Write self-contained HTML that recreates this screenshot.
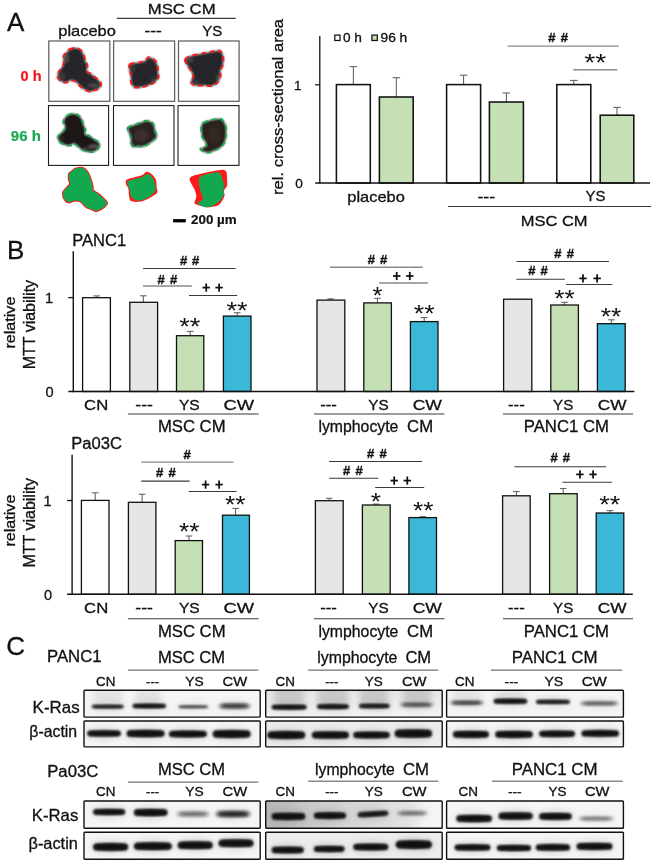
<!DOCTYPE html>
<html><head><meta charset="utf-8"><title>Figure</title>
<style>html,body{margin:0;padding:0;background:#fff}svg{display:block;will-change:transform}text{font-family:"Liberation Sans",sans-serif}</style>
</head><body>
<svg width="652" height="862" viewBox="0 0 652 862">
<defs>
<filter id="b05" x="-20%" y="-20%" width="140%" height="140%"><feGaussianBlur stdDeviation="0.8"/></filter>
<filter id="b03" x="-20%" y="-20%" width="140%" height="140%"><feGaussianBlur stdDeviation="0.3"/></filter>
<filter id="b1" x="-30%" y="-80%" width="160%" height="260%"><feGaussianBlur stdDeviation="1.2 0.95"/></filter>
<filter id="b15" x="-30%" y="-80%" width="160%" height="260%"><feGaussianBlur stdDeviation="1.9 1.35"/></filter>
<filter id="b3" x="-30%" y="-150%" width="160%" height="400%"><feGaussianBlur stdDeviation="3"/></filter>
<linearGradient id="gv" x1="0" y1="0" x2="0" y2="1"><stop offset="0" stop-color="#e4e4e4"/><stop offset="1" stop-color="#f4f4f4"/></linearGradient>
<linearGradient id="gm" x1="0" y1="0" x2="1" y2="0"><stop offset="0" stop-color="#b6b6b6"/><stop offset="0.35" stop-color="#cfcfcf"/><stop offset="0.8" stop-color="#e2e2e2"/><stop offset="0.9" stop-color="#f2f2f2"/><stop offset="1" stop-color="#f6f6f6"/></linearGradient>
</defs>
<rect x="0" y="0" width="652" height="862" fill="#fff"/>
<text x="7.00" y="31.20" font-size="26" text-anchor="start" fill="#111" stroke="#111" stroke-width="0.3" >A</text>
<text x="7.00" y="258.70" font-size="26" text-anchor="start" fill="#111" stroke="#111" stroke-width="0.3" >B</text>
<text x="6.30" y="654.70" font-size="26" text-anchor="start" fill="#111" stroke="#111" stroke-width="0.3" >C</text>
<text x="58.30" y="36.30" font-size="15" text-anchor="start" fill="#111" textLength="57.60" lengthAdjust="spacingAndGlyphs" stroke="#111" stroke-width="0.3" >placebo</text>
<text x="147.80" y="13.50" font-size="15.4" text-anchor="start" fill="#111" textLength="67.80" lengthAdjust="spacingAndGlyphs" stroke="#111" stroke-width="0.3" >MSC CM</text>
<line x1="116.70" y1="18.40" x2="235.70" y2="18.40" stroke="#3a3a3a" stroke-width="1.1" />
<text x="144.40" y="36.30" font-size="15" text-anchor="start" fill="#111" textLength="17.40" lengthAdjust="spacingAndGlyphs" stroke="#111" stroke-width="0.3" >---</text>
<text x="202.30" y="36.10" font-size="15" text-anchor="start" fill="#111" textLength="20.00" lengthAdjust="spacingAndGlyphs" stroke="#111" stroke-width="0.3" >YS</text>
<text x="20.60" y="81.00" font-size="14.5" text-anchor="start" fill="#f4141c" font-weight="bold" stroke="#f4141c" stroke-width="0.2" >0 h</text>
<text x="10.80" y="140.60" font-size="15" text-anchor="start" fill="#18a852" font-weight="bold" stroke="#18a852" stroke-width="0.2" >96 h</text>
<rect x="48.80" y="41.00" width="61.00" height="60.30" fill="none" stroke="#606060" stroke-width="1.25" />
<rect x="113.60" y="41.00" width="61.00" height="60.30" fill="none" stroke="#606060" stroke-width="1.25" />
<rect x="178.50" y="41.00" width="60.60" height="60.30" fill="none" stroke="#606060" stroke-width="1.25" />
<rect x="48.50" y="105.60" width="60.10" height="59.80" fill="none" stroke="#1c1c1c" stroke-width="1.1" />
<rect x="113.50" y="105.60" width="60.50" height="59.80" fill="none" stroke="#1c1c1c" stroke-width="1.1" />
<rect x="178.00" y="105.60" width="61.00" height="59.80" fill="none" stroke="#1c1c1c" stroke-width="1.1" />
<path d="M69.79,49.13C71.22,48.63 74.51,47.95 76.36,48.12C78.22,48.29 79.65,48.96 80.92,50.15C82.18,51.33 83.20,53.35 83.96,55.21C84.71,57.06 84.88,59.59 85.47,61.28C86.06,62.97 87.24,63.64 87.50,65.33C87.75,67.01 86.49,70.05 86.99,71.40C87.50,72.75 88.93,72.24 90.53,73.43C92.14,74.61 94.84,76.80 96.61,78.49C98.38,80.17 100.74,81.86 101.16,83.55C101.58,85.23 100.40,87.43 99.14,88.61C97.87,89.79 95.17,90.13 93.57,90.63C91.97,91.14 91.21,91.90 89.52,91.64C87.84,91.39 85.14,90.13 83.45,89.11C81.76,88.10 80.75,86.84 79.40,85.57C78.05,84.31 76.87,82.37 75.35,81.52C73.83,80.68 71.81,80.34 70.29,80.51C68.77,80.68 67.76,82.37 66.24,82.53C64.72,82.70 62.62,82.37 61.18,81.52C59.75,80.68 58.15,78.91 57.64,77.47C57.13,76.04 57.56,74.44 58.15,72.92C58.74,71.40 60.25,69.97 61.18,68.36C62.11,66.76 63.38,64.99 63.71,63.30C64.05,61.62 63.12,59.68 63.21,58.24C63.29,56.81 63.46,55.88 64.22,54.70C64.98,53.52 66.83,52.09 67.76,51.16C68.69,50.23 68.35,49.64 69.79,49.13Z" fill="#28262b" filter="url(#b05)"/>
<clipPath id="pb1"><path d="M69.79,49.13C71.22,48.63 74.51,47.95 76.36,48.12C78.22,48.29 79.65,48.96 80.92,50.15C82.18,51.33 83.20,53.35 83.96,55.21C84.71,57.06 84.88,59.59 85.47,61.28C86.06,62.97 87.24,63.64 87.50,65.33C87.75,67.01 86.49,70.05 86.99,71.40C87.50,72.75 88.93,72.24 90.53,73.43C92.14,74.61 94.84,76.80 96.61,78.49C98.38,80.17 100.74,81.86 101.16,83.55C101.58,85.23 100.40,87.43 99.14,88.61C97.87,89.79 95.17,90.13 93.57,90.63C91.97,91.14 91.21,91.90 89.52,91.64C87.84,91.39 85.14,90.13 83.45,89.11C81.76,88.10 80.75,86.84 79.40,85.57C78.05,84.31 76.87,82.37 75.35,81.52C73.83,80.68 71.81,80.34 70.29,80.51C68.77,80.68 67.76,82.37 66.24,82.53C64.72,82.70 62.62,82.37 61.18,81.52C59.75,80.68 58.15,78.91 57.64,77.47C57.13,76.04 57.56,74.44 58.15,72.92C58.74,71.40 60.25,69.97 61.18,68.36C62.11,66.76 63.38,64.99 63.71,63.30C64.05,61.62 63.12,59.68 63.21,58.24C63.29,56.81 63.46,55.88 64.22,54.70C64.98,53.52 66.83,52.09 67.76,51.16C68.69,50.23 68.35,49.64 69.79,49.13Z"/></clipPath><g clip-path="url(#pb1)">
<ellipse cx="66.24" cy="58.24" rx="3.04" ry="4.55" fill="#777" opacity="0.45" filter="url(#b1)"/>
<ellipse cx="93.57" cy="85.57" rx="6.07" ry="2.53" fill="#777" opacity="0.4" filter="url(#b1)"/>
<ellipse cx="62.19" cy="76.46" rx="3.04" ry="4.05" fill="#666" opacity="0.3" filter="url(#b1)"/>
</g>
<path d="M69.79,49.13C71.22,48.63 74.51,47.95 76.36,48.12C78.22,48.29 79.65,48.96 80.92,50.15C82.18,51.33 83.20,53.35 83.96,55.21C84.71,57.06 84.88,59.59 85.47,61.28C86.06,62.97 87.24,63.64 87.50,65.33C87.75,67.01 86.49,70.05 86.99,71.40C87.50,72.75 88.93,72.24 90.53,73.43C92.14,74.61 94.84,76.80 96.61,78.49C98.38,80.17 100.74,81.86 101.16,83.55C101.58,85.23 100.40,87.43 99.14,88.61C97.87,89.79 95.17,90.13 93.57,90.63C91.97,91.14 91.21,91.90 89.52,91.64C87.84,91.39 85.14,90.13 83.45,89.11C81.76,88.10 80.75,86.84 79.40,85.57C78.05,84.31 76.87,82.37 75.35,81.52C73.83,80.68 71.81,80.34 70.29,80.51C68.77,80.68 67.76,82.37 66.24,82.53C64.72,82.70 62.62,82.37 61.18,81.52C59.75,80.68 58.15,78.91 57.64,77.47C57.13,76.04 57.56,74.44 58.15,72.92C58.74,71.40 60.25,69.97 61.18,68.36C62.11,66.76 63.38,64.99 63.71,63.30C64.05,61.62 63.12,59.68 63.21,58.24C63.29,56.81 63.46,55.88 64.22,54.70C64.98,53.52 66.83,52.09 67.76,51.16C68.69,50.23 68.35,49.64 69.79,49.13Z" fill="none" stroke="#ff1515" stroke-width="1.8" stroke-dasharray="5 3.6" stroke-linecap="butt" filter="url(#b03)"/>
<path d="M129.72,64.32C130.91,63.22 133.86,63.30 136.30,62.80C138.75,62.29 142.38,62.21 144.40,61.28C146.43,60.35 146.76,57.48 148.45,57.23C150.14,56.98 153.00,58.41 154.52,59.76C156.04,61.11 156.97,63.22 157.56,65.33C158.15,67.44 157.90,70.39 158.06,72.41C158.23,74.44 158.99,75.96 158.57,77.47C158.15,78.99 157.05,80.26 155.53,81.52C154.02,82.79 151.65,84.14 149.46,85.06C147.27,85.99 144.74,86.67 142.38,87.09C140.01,87.51 136.98,87.85 135.29,87.60C133.60,87.34 133.01,86.75 132.26,85.57C131.50,84.39 130.99,82.37 130.74,80.51C130.48,78.65 130.99,76.29 130.74,74.44C130.48,72.58 129.39,71.06 129.22,69.38C129.05,67.69 128.54,65.41 129.72,64.32Z" fill="#26252a" filter="url(#b05)"/>
<clipPath id="pb2"><path d="M129.72,64.32C130.91,63.22 133.86,63.30 136.30,62.80C138.75,62.29 142.38,62.21 144.40,61.28C146.43,60.35 146.76,57.48 148.45,57.23C150.14,56.98 153.00,58.41 154.52,59.76C156.04,61.11 156.97,63.22 157.56,65.33C158.15,67.44 157.90,70.39 158.06,72.41C158.23,74.44 158.99,75.96 158.57,77.47C158.15,78.99 157.05,80.26 155.53,81.52C154.02,82.79 151.65,84.14 149.46,85.06C147.27,85.99 144.74,86.67 142.38,87.09C140.01,87.51 136.98,87.85 135.29,87.60C133.60,87.34 133.01,86.75 132.26,85.57C131.50,84.39 130.99,82.37 130.74,80.51C130.48,78.65 130.99,76.29 130.74,74.44C130.48,72.58 129.39,71.06 129.22,69.38C129.05,67.69 128.54,65.41 129.72,64.32Z"/></clipPath><g clip-path="url(#pb2)">
<ellipse cx="132.76" cy="68.36" rx="2.53" ry="4.55" fill="#666" opacity="0.3" filter="url(#b1)"/>
<ellipse cx="153.51" cy="80.51" rx="3.04" ry="3.04" fill="#666" opacity="0.3" filter="url(#b1)"/>
</g>
<path d="M129.72,64.32C130.91,63.22 133.86,63.30 136.30,62.80C138.75,62.29 142.38,62.21 144.40,61.28C146.43,60.35 146.76,57.48 148.45,57.23C150.14,56.98 153.00,58.41 154.52,59.76C156.04,61.11 156.97,63.22 157.56,65.33C158.15,67.44 157.90,70.39 158.06,72.41C158.23,74.44 158.99,75.96 158.57,77.47C158.15,78.99 157.05,80.26 155.53,81.52C154.02,82.79 151.65,84.14 149.46,85.06C147.27,85.99 144.74,86.67 142.38,87.09C140.01,87.51 136.98,87.85 135.29,87.60C133.60,87.34 133.01,86.75 132.26,85.57C131.50,84.39 130.99,82.37 130.74,80.51C130.48,78.65 130.99,76.29 130.74,74.44C130.48,72.58 129.39,71.06 129.22,69.38C129.05,67.69 128.54,65.41 129.72,64.32Z" fill="none" stroke="#ff1515" stroke-width="1.8" stroke-dasharray="5 3.6" stroke-linecap="butt" filter="url(#b03)"/>
<path d="M185.11,59.26C185.78,57.65 188.48,56.64 191.18,55.71C193.88,54.78 197.93,54.36 201.30,53.69C204.68,53.01 208.39,52.17 211.43,51.66C214.46,51.16 217.58,50.06 219.52,50.65C221.46,51.24 222.47,52.93 223.06,55.21C223.66,57.48 223.49,61.79 223.06,64.32C222.64,66.85 220.96,68.36 220.53,70.39C220.11,72.41 221.04,74.44 220.53,76.46C220.03,78.49 219.02,80.93 217.50,82.53C215.98,84.14 213.79,85.57 211.43,86.08C209.06,86.58 206.03,85.66 203.33,85.57C200.63,85.49 197.34,86.16 195.23,85.57C193.12,84.98 191.01,83.55 190.68,82.03C190.34,80.51 193.21,78.40 193.21,76.46C193.21,74.52 191.69,72.24 190.68,70.39C189.66,68.53 188.06,67.18 187.13,65.33C186.21,63.47 184.43,60.86 185.11,59.26Z" fill="#27262a" filter="url(#b05)"/>
<clipPath id="pb3"><path d="M185.11,59.26C185.78,57.65 188.48,56.64 191.18,55.71C193.88,54.78 197.93,54.36 201.30,53.69C204.68,53.01 208.39,52.17 211.43,51.66C214.46,51.16 217.58,50.06 219.52,50.65C221.46,51.24 222.47,52.93 223.06,55.21C223.66,57.48 223.49,61.79 223.06,64.32C222.64,66.85 220.96,68.36 220.53,70.39C220.11,72.41 221.04,74.44 220.53,76.46C220.03,78.49 219.02,80.93 217.50,82.53C215.98,84.14 213.79,85.57 211.43,86.08C209.06,86.58 206.03,85.66 203.33,85.57C200.63,85.49 197.34,86.16 195.23,85.57C193.12,84.98 191.01,83.55 190.68,82.03C190.34,80.51 193.21,78.40 193.21,76.46C193.21,74.52 191.69,72.24 190.68,70.39C189.66,68.53 188.06,67.18 187.13,65.33C186.21,63.47 184.43,60.86 185.11,59.26Z"/></clipPath><g clip-path="url(#pb3)">
<ellipse cx="189.16" cy="59.76" rx="4.05" ry="2.53" fill="#777" opacity="0.4" filter="url(#b1)"/>
<ellipse cx="218.51" cy="78.49" rx="2.53" ry="4.55" fill="#777" opacity="0.4" filter="url(#b1)"/>
<ellipse cx="196.24" cy="82.53" rx="4.05" ry="2.53" fill="#666" opacity="0.3" filter="url(#b1)"/>
</g>
<path d="M185.11,59.26C185.78,57.65 188.48,56.64 191.18,55.71C193.88,54.78 197.93,54.36 201.30,53.69C204.68,53.01 208.39,52.17 211.43,51.66C214.46,51.16 217.58,50.06 219.52,50.65C221.46,51.24 222.47,52.93 223.06,55.21C223.66,57.48 223.49,61.79 223.06,64.32C222.64,66.85 220.96,68.36 220.53,70.39C220.11,72.41 221.04,74.44 220.53,76.46C220.03,78.49 219.02,80.93 217.50,82.53C215.98,84.14 213.79,85.57 211.43,86.08C209.06,86.58 206.03,85.66 203.33,85.57C200.63,85.49 197.34,86.16 195.23,85.57C193.12,84.98 191.01,83.55 190.68,82.03C190.34,80.51 193.21,78.40 193.21,76.46C193.21,74.52 191.69,72.24 190.68,70.39C189.66,68.53 188.06,67.18 187.13,65.33C186.21,63.47 184.43,60.86 185.11,59.26Z" fill="none" stroke="#ff1515" stroke-width="1.8" stroke-dasharray="5 3.6" stroke-linecap="butt" filter="url(#b03)"/>
<path d="M67.76,115.16C69.03,114.40 70.54,113.64 72.32,113.64C74.09,113.64 76.79,114.15 78.39,115.16C79.99,116.17 81.09,118.11 81.93,119.71C82.77,121.32 82.86,123.17 83.45,124.77C84.04,126.38 85.22,127.73 85.47,129.33C85.73,130.93 84.46,133.38 84.97,134.39C85.47,135.40 86.91,134.56 88.51,135.40C90.11,136.24 92.73,138.10 94.58,139.45C96.44,140.80 99.14,141.81 99.64,143.50C100.15,145.18 98.97,148.14 97.62,149.57C96.27,151.00 93.40,151.76 91.55,152.10C89.69,152.44 88.17,152.02 86.49,151.60C84.80,151.17 82.94,150.50 81.43,149.57C79.91,148.64 78.73,147.04 77.38,146.03C76.03,145.02 74.51,143.58 73.33,143.50C72.15,143.41 71.64,145.27 70.29,145.52C68.94,145.78 66.92,145.52 65.23,145.02C63.54,144.51 61.44,143.75 60.17,142.49C58.90,141.22 57.64,138.86 57.64,137.43C57.64,135.99 59.16,134.98 60.17,133.88C61.18,132.79 62.87,132.11 63.71,130.85C64.56,129.58 65.32,127.73 65.23,126.29C65.15,124.86 63.29,123.59 63.21,122.24C63.12,120.89 63.97,119.38 64.72,118.19C65.48,117.01 66.50,115.92 67.76,115.16Z" fill="#1c1716" filter="url(#b05)"/>
<clipPath id="pb4"><path d="M67.76,115.16C69.03,114.40 70.54,113.64 72.32,113.64C74.09,113.64 76.79,114.15 78.39,115.16C79.99,116.17 81.09,118.11 81.93,119.71C82.77,121.32 82.86,123.17 83.45,124.77C84.04,126.38 85.22,127.73 85.47,129.33C85.73,130.93 84.46,133.38 84.97,134.39C85.47,135.40 86.91,134.56 88.51,135.40C90.11,136.24 92.73,138.10 94.58,139.45C96.44,140.80 99.14,141.81 99.64,143.50C100.15,145.18 98.97,148.14 97.62,149.57C96.27,151.00 93.40,151.76 91.55,152.10C89.69,152.44 88.17,152.02 86.49,151.60C84.80,151.17 82.94,150.50 81.43,149.57C79.91,148.64 78.73,147.04 77.38,146.03C76.03,145.02 74.51,143.58 73.33,143.50C72.15,143.41 71.64,145.27 70.29,145.52C68.94,145.78 66.92,145.52 65.23,145.02C63.54,144.51 61.44,143.75 60.17,142.49C58.90,141.22 57.64,138.86 57.64,137.43C57.64,135.99 59.16,134.98 60.17,133.88C61.18,132.79 62.87,132.11 63.71,130.85C64.56,129.58 65.32,127.73 65.23,126.29C65.15,124.86 63.29,123.59 63.21,122.24C63.12,120.89 63.97,119.38 64.72,118.19C65.48,117.01 66.50,115.92 67.76,115.16Z"/></clipPath><g clip-path="url(#pb4)">
<ellipse cx="93.57" cy="146.53" rx="5.06" ry="2.23" fill="#8a8580" opacity="0.55" filter="url(#b1)"/>
<ellipse cx="86.49" cy="148.56" rx="4.05" ry="1.82" fill="#777" opacity="0.35" filter="url(#b1)"/>
<ellipse cx="61.18" cy="139.45" rx="2.53" ry="3.54" fill="#555" opacity="0.3" filter="url(#b1)"/>
</g>
<path d="M67.76,115.16C69.03,114.40 70.54,113.64 72.32,113.64C74.09,113.64 76.79,114.15 78.39,115.16C79.99,116.17 81.09,118.11 81.93,119.71C82.77,121.32 82.86,123.17 83.45,124.77C84.04,126.38 85.22,127.73 85.47,129.33C85.73,130.93 84.46,133.38 84.97,134.39C85.47,135.40 86.91,134.56 88.51,135.40C90.11,136.24 92.73,138.10 94.58,139.45C96.44,140.80 99.14,141.81 99.64,143.50C100.15,145.18 98.97,148.14 97.62,149.57C96.27,151.00 93.40,151.76 91.55,152.10C89.69,152.44 88.17,152.02 86.49,151.60C84.80,151.17 82.94,150.50 81.43,149.57C79.91,148.64 78.73,147.04 77.38,146.03C76.03,145.02 74.51,143.58 73.33,143.50C72.15,143.41 71.64,145.27 70.29,145.52C68.94,145.78 66.92,145.52 65.23,145.02C63.54,144.51 61.44,143.75 60.17,142.49C58.90,141.22 57.64,138.86 57.64,137.43C57.64,135.99 59.16,134.98 60.17,133.88C61.18,132.79 62.87,132.11 63.71,130.85C64.56,129.58 65.32,127.73 65.23,126.29C65.15,124.86 63.29,123.59 63.21,122.24C63.12,120.89 63.97,119.38 64.72,118.19C65.48,117.01 66.50,115.92 67.76,115.16Z" fill="none" stroke="#12b04e" stroke-width="1.8" stroke-dasharray="5 3.6" stroke-linecap="butt" filter="url(#b03)"/>
<path d="M127.70,127.81C128.46,126.63 131.16,126.12 133.27,125.28C135.38,124.44 138.16,123.51 140.35,122.75C142.55,121.99 144.40,120.72 146.43,120.72C148.45,120.72 151.15,121.65 152.50,122.75C153.85,123.85 154.02,125.70 154.52,127.30C155.03,128.91 155.11,130.85 155.53,132.36C155.96,133.88 157.39,135.06 157.05,136.41C156.72,137.76 154.78,139.28 153.51,140.46C152.24,141.64 151.15,142.49 149.46,143.50C147.77,144.51 145.41,146.03 143.39,146.53C141.36,147.04 139.00,146.45 137.32,146.53C135.63,146.62 134.36,147.72 133.27,147.04C132.17,146.37 131.16,144.09 130.74,142.49C130.32,140.88 131.07,139.11 130.74,137.43C130.40,135.74 129.22,133.97 128.71,132.36C128.21,130.76 126.94,128.99 127.70,127.81Z" fill="#2c2320" filter="url(#b05)"/>
<clipPath id="pb5"><path d="M127.70,127.81C128.46,126.63 131.16,126.12 133.27,125.28C135.38,124.44 138.16,123.51 140.35,122.75C142.55,121.99 144.40,120.72 146.43,120.72C148.45,120.72 151.15,121.65 152.50,122.75C153.85,123.85 154.02,125.70 154.52,127.30C155.03,128.91 155.11,130.85 155.53,132.36C155.96,133.88 157.39,135.06 157.05,136.41C156.72,137.76 154.78,139.28 153.51,140.46C152.24,141.64 151.15,142.49 149.46,143.50C147.77,144.51 145.41,146.03 143.39,146.53C141.36,147.04 139.00,146.45 137.32,146.53C135.63,146.62 134.36,147.72 133.27,147.04C132.17,146.37 131.16,144.09 130.74,142.49C130.32,140.88 131.07,139.11 130.74,137.43C130.40,135.74 129.22,133.97 128.71,132.36C128.21,130.76 126.94,128.99 127.70,127.81Z"/></clipPath><g clip-path="url(#pb5)">
<ellipse cx="141.36" cy="135.40" rx="7.09" ry="6.07" fill="#5a4a42" opacity="0.35" filter="url(#b1)"/>
</g>
<path d="M127.70,127.81C128.46,126.63 131.16,126.12 133.27,125.28C135.38,124.44 138.16,123.51 140.35,122.75C142.55,121.99 144.40,120.72 146.43,120.72C148.45,120.72 151.15,121.65 152.50,122.75C153.85,123.85 154.02,125.70 154.52,127.30C155.03,128.91 155.11,130.85 155.53,132.36C155.96,133.88 157.39,135.06 157.05,136.41C156.72,137.76 154.78,139.28 153.51,140.46C152.24,141.64 151.15,142.49 149.46,143.50C147.77,144.51 145.41,146.03 143.39,146.53C141.36,147.04 139.00,146.45 137.32,146.53C135.63,146.62 134.36,147.72 133.27,147.04C132.17,146.37 131.16,144.09 130.74,142.49C130.32,140.88 131.07,139.11 130.74,137.43C130.40,135.74 129.22,133.97 128.71,132.36C128.21,130.76 126.94,128.99 127.70,127.81Z" fill="none" stroke="#12b04e" stroke-width="1.8" stroke-dasharray="5 3.6" stroke-linecap="butt" filter="url(#b03)"/>
<path d="M203.33,122.75C204.85,121.74 207.71,120.89 210.41,120.22C213.11,119.54 217.33,118.53 219.52,118.70C221.72,118.87 222.47,119.80 223.57,121.23C224.67,122.66 225.68,124.94 226.10,127.30C226.52,129.67 226.35,132.87 226.10,135.40C225.85,137.93 225.51,140.46 224.58,142.49C223.66,144.51 222.22,146.20 220.53,147.55C218.85,148.90 216.32,149.74 214.46,150.58C212.61,151.43 211.09,152.35 209.40,152.61C207.71,152.86 205.86,152.69 204.34,152.10C202.82,151.51 200.46,149.82 200.29,149.06C200.12,148.31 202.32,148.14 203.33,147.55C204.34,146.96 206.03,146.45 206.36,145.52C206.70,144.59 206.03,143.33 205.35,141.98C204.68,140.63 202.99,139.20 202.32,137.43C201.64,135.65 201.47,133.21 201.30,131.35C201.13,129.50 200.97,127.73 201.30,126.29C201.64,124.86 201.81,123.76 203.33,122.75Z" fill="#2a221e" filter="url(#b05)"/>
<clipPath id="pb6"><path d="M203.33,122.75C204.85,121.74 207.71,120.89 210.41,120.22C213.11,119.54 217.33,118.53 219.52,118.70C221.72,118.87 222.47,119.80 223.57,121.23C224.67,122.66 225.68,124.94 226.10,127.30C226.52,129.67 226.35,132.87 226.10,135.40C225.85,137.93 225.51,140.46 224.58,142.49C223.66,144.51 222.22,146.20 220.53,147.55C218.85,148.90 216.32,149.74 214.46,150.58C212.61,151.43 211.09,152.35 209.40,152.61C207.71,152.86 205.86,152.69 204.34,152.10C202.82,151.51 200.46,149.82 200.29,149.06C200.12,148.31 202.32,148.14 203.33,147.55C204.34,146.96 206.03,146.45 206.36,145.52C206.70,144.59 206.03,143.33 205.35,141.98C204.68,140.63 202.99,139.20 202.32,137.43C201.64,135.65 201.47,133.21 201.30,131.35C201.13,129.50 200.97,127.73 201.30,126.29C201.64,124.86 201.81,123.76 203.33,122.75Z"/></clipPath><g clip-path="url(#pb6)">
<ellipse cx="214.46" cy="135.40" rx="6.07" ry="9.11" fill="#4a3e36" opacity="0.3" filter="url(#b1)"/>
</g>
<path d="M203.33,122.75C204.85,121.74 207.71,120.89 210.41,120.22C213.11,119.54 217.33,118.53 219.52,118.70C221.72,118.87 222.47,119.80 223.57,121.23C224.67,122.66 225.68,124.94 226.10,127.30C226.52,129.67 226.35,132.87 226.10,135.40C225.85,137.93 225.51,140.46 224.58,142.49C223.66,144.51 222.22,146.20 220.53,147.55C218.85,148.90 216.32,149.74 214.46,150.58C212.61,151.43 211.09,152.35 209.40,152.61C207.71,152.86 205.86,152.69 204.34,152.10C202.82,151.51 200.46,149.82 200.29,149.06C200.12,148.31 202.32,148.14 203.33,147.55C204.34,146.96 206.03,146.45 206.36,145.52C206.70,144.59 206.03,143.33 205.35,141.98C204.68,140.63 202.99,139.20 202.32,137.43C201.64,135.65 201.47,133.21 201.30,131.35C201.13,129.50 200.97,127.73 201.30,126.29C201.64,124.86 201.81,123.76 203.33,122.75Z" fill="none" stroke="#12b04e" stroke-width="1.8" stroke-dasharray="5 3.6" stroke-linecap="butt" filter="url(#b03)"/>
<path d="M75.45,168.59C77.19,168.08 80.76,167.36 82.81,167.98C84.85,168.59 86.39,170.33 87.72,172.27C89.05,174.21 89.97,177.28 90.79,179.63C91.60,181.98 92.22,184.54 92.63,186.38C93.03,188.22 92.22,189.35 93.24,190.67C94.26,192.00 96.51,192.41 98.76,194.36C101.01,196.30 105.51,200.59 106.74,202.33C107.96,204.07 106.74,203.87 106.12,204.79C105.51,205.71 104.69,206.83 103.06,207.85C101.42,208.88 98.25,210.72 96.31,210.92C94.36,211.12 93.03,209.69 91.40,209.08C89.76,208.47 88.13,208.36 86.49,207.24C84.85,206.11 83.01,203.46 81.58,202.33C80.15,201.21 79.33,200.70 77.90,200.49C76.47,200.29 74.63,200.80 72.99,201.10C71.36,201.41 69.62,202.84 68.09,202.33C66.55,201.82 64.61,199.67 63.79,198.04C62.97,196.40 62.67,194.25 63.18,192.52C63.69,190.78 65.73,189.04 66.86,187.61C67.98,186.18 69.62,185.46 69.93,183.93C70.23,182.39 68.80,180.14 68.70,178.40C68.60,176.67 68.70,174.72 69.31,173.50C69.93,172.27 71.36,171.86 72.38,171.04C73.40,170.22 73.71,169.10 75.45,168.59Z" fill="#12a84f" stroke="#ff1a1a" stroke-width="2.0" paint-order="stroke"/>
<path d="M126.56,179.63C128.00,178.51 131.98,177.89 134.54,177.18C137.10,176.46 139.86,176.26 141.90,175.34C143.95,174.42 145.07,171.76 146.81,171.66C148.55,171.55 150.80,173.29 152.33,174.72C153.87,176.16 155.30,178.20 156.01,180.25C156.73,182.29 156.42,184.95 156.63,186.99C156.83,189.04 158.06,190.88 157.24,192.52C156.42,194.15 153.66,195.58 151.72,196.81C149.78,198.04 147.63,199.06 145.58,199.88C143.54,200.70 141.90,201.51 139.45,201.72C136.99,201.92 132.60,202.13 130.86,201.10C129.12,200.08 129.43,197.63 129.02,195.58C128.61,193.54 128.92,190.78 128.40,188.83C127.89,186.89 126.26,185.46 125.95,183.93C125.64,182.39 125.13,180.76 126.56,179.63Z" fill="#ff1a1a"/>
<path d="M127.79,181.47C128.92,180.45 132.19,179.73 134.54,179.02C136.89,178.30 139.65,178.00 141.90,177.18C144.15,176.36 146.30,174.01 148.04,174.11C149.78,174.21 151.21,176.26 152.33,177.79C153.46,179.33 154.23,181.37 154.79,183.31C155.34,185.26 156.16,187.51 155.64,189.45C155.13,191.39 153.39,193.44 151.72,194.97C150.04,196.50 147.63,197.73 145.58,198.65C143.54,199.57 141.39,200.39 139.45,200.49C137.51,200.59 135.36,200.08 133.93,199.26C132.49,198.45 131.57,197.22 130.86,195.58C130.14,193.95 130.14,191.19 129.63,189.45C129.12,187.71 128.10,186.48 127.79,185.15C127.48,183.82 126.67,182.49 127.79,181.47Z" fill="#12a84f"/>
<path d="M189.63,178.40C190.14,176.97 192.09,176.26 194.54,175.34C196.99,174.42 201.08,173.60 204.36,172.88C207.63,172.17 211.10,171.55 214.17,171.04C217.24,170.53 220.72,169.61 222.76,169.82C224.81,170.02 225.73,170.63 226.44,172.27C227.16,173.91 226.95,177.38 227.06,179.63C227.16,181.88 227.57,183.93 227.06,185.77C226.54,187.61 224.40,189.04 223.99,190.67C223.58,192.31 225.01,193.74 224.60,195.58C224.19,197.42 222.66,200.08 221.53,201.72C220.41,203.35 219.39,204.58 217.85,205.40C216.32,206.22 214.17,206.32 212.33,206.63C210.49,206.93 208.96,207.44 206.81,207.24C204.66,207.03 201.49,206.11 199.45,205.40C197.40,204.68 195.05,204.38 194.54,202.94C194.03,201.51 196.38,199.06 196.38,196.81C196.38,194.56 195.36,191.60 194.54,189.45C193.72,187.30 192.29,185.77 191.47,183.93C190.65,182.09 189.12,179.84 189.63,178.40Z" fill="#ff1a1a"/>
<path d="M200.06,177.18C201.39,176.05 203.84,174.93 206.81,174.11C209.78,173.29 215.40,171.96 217.85,172.27C220.31,172.58 220.72,174.52 221.53,175.95C222.35,177.38 222.25,179.43 222.76,180.86C223.27,182.29 224.50,183.11 224.60,184.54C224.70,185.97 223.48,187.81 223.37,189.45C223.27,191.08 224.50,192.52 223.99,194.36C223.48,196.20 221.74,198.85 220.31,200.49C218.88,202.13 217.44,203.05 215.40,204.17C213.35,205.30 210.29,206.93 208.04,207.24C205.79,207.55 203.64,206.73 201.90,206.01C200.16,205.30 197.81,203.76 197.61,202.94C197.40,202.13 199.75,201.92 200.67,201.10C201.60,200.29 203.03,199.37 203.13,198.04C203.23,196.71 201.90,194.97 201.29,193.13C200.67,191.29 199.86,189.04 199.45,186.99C199.04,184.95 198.73,182.49 198.83,180.86C198.94,179.22 198.73,178.30 200.06,177.18Z" fill="#12a84f"/>
<rect x="173.1" y="219.1" width="12.7" height="3.3" fill="#000"/>
<text x="191.10" y="223.60" font-size="13" text-anchor="start" fill="#111" font-weight="bold" textLength="45.60" lengthAdjust="spacingAndGlyphs" stroke="#111" stroke-width="0.2" >200 µm</text>
<line x1="353.35" y1="66.60" x2="353.35" y2="84.60" stroke="#555" stroke-width="1.0" />
<line x1="349.55" y1="66.60" x2="357.15" y2="66.60" stroke="#666" stroke-width="1.1" />
<rect x="336.40" y="84.60" width="33.90" height="98.40" fill="#fff" stroke="#111" stroke-width="1.55" />
<line x1="396.30" y1="77.70" x2="396.30" y2="97.00" stroke="#555" stroke-width="1.0" />
<line x1="392.50" y1="77.70" x2="400.10" y2="77.70" stroke="#666" stroke-width="1.1" />
<rect x="379.40" y="97.00" width="33.80" height="86.00" fill="#c5e0b4" stroke="#111" stroke-width="1.55" />
<line x1="463.60" y1="75.20" x2="463.60" y2="84.60" stroke="#555" stroke-width="1.0" />
<line x1="459.80" y1="75.20" x2="467.40" y2="75.20" stroke="#666" stroke-width="1.1" />
<rect x="446.60" y="84.60" width="34.00" height="98.40" fill="#fff" stroke="#111" stroke-width="1.55" />
<line x1="506.40" y1="93.00" x2="506.40" y2="102.00" stroke="#555" stroke-width="1.0" />
<line x1="502.60" y1="93.00" x2="510.20" y2="93.00" stroke="#666" stroke-width="1.1" />
<rect x="489.40" y="102.00" width="34.00" height="81.00" fill="#c5e0b4" stroke="#111" stroke-width="1.55" />
<line x1="573.80" y1="80.40" x2="573.80" y2="84.60" stroke="#555" stroke-width="1.0" />
<line x1="570.00" y1="80.40" x2="577.60" y2="80.40" stroke="#666" stroke-width="1.1" />
<rect x="556.80" y="84.60" width="34.00" height="98.40" fill="#fff" stroke="#111" stroke-width="1.55" />
<line x1="617.00" y1="107.40" x2="617.00" y2="115.20" stroke="#555" stroke-width="1.0" />
<line x1="613.20" y1="107.40" x2="620.80" y2="107.40" stroke="#666" stroke-width="1.1" />
<rect x="600.20" y="115.20" width="33.60" height="67.80" fill="#c5e0b4" stroke="#111" stroke-width="1.55" />
<line x1="319.80" y1="36.00" x2="319.80" y2="183.60" stroke="#111" stroke-width="1.3" />
<line x1="315.20" y1="183.00" x2="650.00" y2="183.00" stroke="#111" stroke-width="1.3" />
<line x1="315.00" y1="84.80" x2="319.80" y2="84.80" stroke="#111" stroke-width="1.2" />
<text x="301.30" y="89.80" font-size="13.2" text-anchor="end" fill="#111" stroke="#111" stroke-width="0.3" >1</text>
<text x="302.70" y="188.00" font-size="13.6" text-anchor="end" fill="#111" stroke="#111" stroke-width="0.3" >0</text>
<text transform="translate(282.6,194.9) rotate(-90)" font-size="14.8" fill="#111" stroke="#111" stroke-width="0.3" textLength="176.0" lengthAdjust="spacingAndGlyphs">rel. cross-sectional area</text>
<rect x="334.80" y="35.10" width="5.20" height="5.40" fill="#fff" stroke="#111" stroke-width="1.25" />
<text x="342.90" y="41.50" font-size="12.3" text-anchor="start" fill="#111" textLength="19.00" lengthAdjust="spacingAndGlyphs" stroke="#111" stroke-width="0.3" >0 h</text>
<rect x="371.90" y="35.10" width="5.40" height="5.40" fill="#c5e0b4" stroke="#111" stroke-width="1.25" />
<text x="380.50" y="41.50" font-size="12.3" text-anchor="start" fill="#111" textLength="26.70" lengthAdjust="spacingAndGlyphs" stroke="#111" stroke-width="0.3" >96 h</text>
<line x1="507.50" y1="46.10" x2="618.80" y2="46.10" stroke="#8a8a8a" stroke-width="1.4" />
<text x="551.80" y="42.00" font-size="13" text-anchor="middle" fill="#111" font-weight="bold" stroke="#111" stroke-width="0.35">#</text>
<text x="564.40" y="42.00" font-size="13" text-anchor="middle" fill="#111" font-weight="bold" stroke="#111" stroke-width="0.35">#</text>
<line x1="573.40" y1="69.70" x2="617.30" y2="69.70" stroke="#8a8a8a" stroke-width="1.4" />
<text x="595.20" y="70.50" font-size="24" text-anchor="middle" fill="#111" textLength="22.00" lengthAdjust="spacingAndGlyphs" stroke="none">**</text>
<text x="347.30" y="201.60" font-size="14.6" text-anchor="start" fill="#111" textLength="57.60" lengthAdjust="spacingAndGlyphs" stroke="#111" stroke-width="0.3" >placebo</text>
<text x="477.50" y="201.60" font-size="14.6" text-anchor="start" fill="#111" textLength="17.60" lengthAdjust="spacingAndGlyphs" stroke="#111" stroke-width="0.3" >---</text>
<text x="585.60" y="201.40" font-size="14.6" text-anchor="start" fill="#111" textLength="20.00" lengthAdjust="spacingAndGlyphs" stroke="#111" stroke-width="0.3" >YS</text>
<line x1="448.10" y1="206.50" x2="651.00" y2="206.50" stroke="#3a3a3a" stroke-width="1.1" />
<text x="520.70" y="225.70" font-size="15.4" text-anchor="start" fill="#111" textLength="66.90" lengthAdjust="spacingAndGlyphs" stroke="#111" stroke-width="0.3" >MSC CM</text>
<line x1="96.60" y1="295.90" x2="96.60" y2="297.70" stroke="#555" stroke-width="1.0" />
<line x1="93.30" y1="295.90" x2="99.90" y2="295.90" stroke="#666" stroke-width="1.1" />
<rect x="82.60" y="297.70" width="27.80" height="93.80" fill="#fff" stroke="#111" stroke-width="1.3" />
<line x1="143.30" y1="295.80" x2="143.30" y2="302.30" stroke="#555" stroke-width="1.0" />
<line x1="140.00" y1="295.80" x2="146.60" y2="295.80" stroke="#666" stroke-width="1.1" />
<rect x="129.80" y="302.30" width="27.80" height="89.20" fill="#e7e6e6" stroke="#111" stroke-width="1.3" />
<line x1="190.20" y1="331.40" x2="190.20" y2="335.70" stroke="#555" stroke-width="1.0" />
<line x1="186.90" y1="331.40" x2="193.50" y2="331.40" stroke="#666" stroke-width="1.1" />
<rect x="176.50" y="335.70" width="27.30" height="55.80" fill="#c5e0b4" stroke="#111" stroke-width="1.3" />
<line x1="237.20" y1="312.70" x2="237.20" y2="316.10" stroke="#555" stroke-width="1.0" />
<line x1="233.90" y1="312.70" x2="240.50" y2="312.70" stroke="#666" stroke-width="1.1" />
<rect x="223.40" y="316.10" width="27.60" height="75.40" fill="#3bb8d8" stroke="#111" stroke-width="1.3" />
<line x1="330.70" y1="298.90" x2="330.70" y2="300.10" stroke="#555" stroke-width="1.0" />
<line x1="327.40" y1="298.90" x2="334.00" y2="298.90" stroke="#666" stroke-width="1.1" />
<rect x="317.00" y="300.10" width="27.80" height="91.40" fill="#e7e6e6" stroke="#111" stroke-width="1.3" />
<line x1="377.40" y1="298.30" x2="377.40" y2="302.90" stroke="#555" stroke-width="1.0" />
<line x1="374.10" y1="298.30" x2="380.70" y2="298.30" stroke="#666" stroke-width="1.1" />
<rect x="363.80" y="302.90" width="27.60" height="88.60" fill="#c5e0b4" stroke="#111" stroke-width="1.3" />
<line x1="424.20" y1="317.60" x2="424.20" y2="321.60" stroke="#555" stroke-width="1.0" />
<line x1="420.90" y1="317.60" x2="427.50" y2="317.60" stroke="#666" stroke-width="1.1" />
<rect x="410.40" y="321.60" width="27.60" height="69.90" fill="#3bb8d8" stroke="#111" stroke-width="1.3" />
<rect x="503.60" y="299.20" width="28.20" height="92.30" fill="#e7e6e6" stroke="#111" stroke-width="1.3" />
<line x1="564.60" y1="302.30" x2="564.60" y2="305.00" stroke="#555" stroke-width="1.0" />
<line x1="561.30" y1="302.30" x2="567.90" y2="302.30" stroke="#666" stroke-width="1.1" />
<rect x="550.80" y="305.00" width="27.60" height="86.50" fill="#c5e0b4" stroke="#111" stroke-width="1.3" />
<line x1="611.40" y1="319.80" x2="611.40" y2="323.70" stroke="#555" stroke-width="1.0" />
<line x1="608.10" y1="319.80" x2="614.70" y2="319.80" stroke="#666" stroke-width="1.1" />
<rect x="597.40" y="323.70" width="27.80" height="67.80" fill="#3bb8d8" stroke="#111" stroke-width="1.3" />
<line x1="73.30" y1="251.20" x2="73.30" y2="392.20" stroke="#111" stroke-width="1.4" />
<line x1="68.30" y1="391.50" x2="634.40" y2="391.50" stroke="#111" stroke-width="1.4" />
<line x1="68.30" y1="297.60" x2="73.30" y2="297.60" stroke="#111" stroke-width="1.3" />
<text x="53.00" y="302.80" font-size="14.6" text-anchor="end" fill="#111" stroke="#111" stroke-width="0.3" >1</text>
<text x="53.50" y="396.70" font-size="14.6" text-anchor="end" fill="#111" stroke="#111" stroke-width="0.3" >0</text>
<text x="72.20" y="245.70" font-size="16" text-anchor="start" fill="#111" textLength="53.90" lengthAdjust="spacingAndGlyphs" stroke="#111" stroke-width="0.3" >PANC1</text>
<text transform="translate(14.9,348.6) rotate(-90)" font-size="14.6" fill="#111" stroke="#111" stroke-width="0.3" textLength="52.0" lengthAdjust="spacingAndGlyphs">relative</text>
<text transform="translate(34.9,369.3) rotate(-90)" font-size="16" fill="#111" stroke="#111" stroke-width="0.3" textLength="89.4" lengthAdjust="spacingAndGlyphs">MTT viability</text>
<line x1="143.00" y1="268.50" x2="235.60" y2="268.50" stroke="#3a3a3a" stroke-width="1.1" />
<text x="183.60" y="264.50" font-size="13" text-anchor="middle" fill="#111" font-weight="bold" stroke="#111" stroke-width="0.35">#</text>
<text x="195.60" y="264.50" font-size="13" text-anchor="middle" fill="#111" font-weight="bold" stroke="#111" stroke-width="0.35">#</text>
<line x1="143.00" y1="286.00" x2="191.80" y2="286.00" stroke="#8a8a8a" stroke-width="1.4" />
<text x="161.20" y="283.90" font-size="13" text-anchor="middle" fill="#111" font-weight="bold" stroke="#111" stroke-width="0.35">#</text>
<text x="173.60" y="283.90" font-size="13" text-anchor="middle" fill="#111" font-weight="bold" stroke="#111" stroke-width="0.35">#</text>
<line x1="189.00" y1="295.50" x2="237.20" y2="295.50" stroke="#3a3a3a" stroke-width="1.1" />
<rect x="202.50" y="286.72" width="7.40" height="1.75" fill="#111"/>
<rect x="205.32" y="283.50" width="1.75" height="8.20" fill="#111"/>
<rect x="215.40" y="286.72" width="7.40" height="1.75" fill="#111"/>
<rect x="218.23" y="283.50" width="1.75" height="8.20" fill="#111"/>
<text x="189.80" y="334.80" font-size="24" text-anchor="middle" fill="#111" textLength="21.20" lengthAdjust="spacingAndGlyphs" stroke="none">**</text>
<text x="237.00" y="318.80" font-size="24" text-anchor="middle" fill="#111" textLength="21.20" lengthAdjust="spacingAndGlyphs" stroke="none">**</text>
<line x1="330.00" y1="267.30" x2="422.70" y2="267.30" stroke="#8a8a8a" stroke-width="1.4" />
<text x="371.30" y="263.60" font-size="13" text-anchor="middle" fill="#111" font-weight="bold" stroke="#111" stroke-width="0.35">#</text>
<text x="383.60" y="263.60" font-size="13" text-anchor="middle" fill="#111" font-weight="bold" stroke="#111" stroke-width="0.35">#</text>
<line x1="379.10" y1="283.00" x2="427.90" y2="283.00" stroke="#8a8a8a" stroke-width="1.4" />
<rect x="393.00" y="275.12" width="7.40" height="1.75" fill="#111"/>
<rect x="395.82" y="271.90" width="1.75" height="8.20" fill="#111"/>
<rect x="406.10" y="275.12" width="7.40" height="1.75" fill="#111"/>
<rect x="408.93" y="271.90" width="1.75" height="8.20" fill="#111"/>
<text x="377.45" y="304.10" font-size="24" text-anchor="middle" fill="#111" textLength="9.90" lengthAdjust="spacingAndGlyphs" stroke="none">*</text>
<text x="424.20" y="321.90" font-size="24" text-anchor="middle" fill="#111" textLength="20.80" lengthAdjust="spacingAndGlyphs" stroke="none">**</text>
<line x1="516.40" y1="261.50" x2="609.00" y2="261.50" stroke="#3a3a3a" stroke-width="1.1" />
<text x="557.90" y="257.80" font-size="13" text-anchor="middle" fill="#111" font-weight="bold" stroke="#111" stroke-width="0.35">#</text>
<text x="570.30" y="257.80" font-size="13" text-anchor="middle" fill="#111" font-weight="bold" stroke="#111" stroke-width="0.35">#</text>
<line x1="516.40" y1="279.30" x2="564.90" y2="279.30" stroke="#3a3a3a" stroke-width="1.1" />
<text x="531.90" y="274.70" font-size="13" text-anchor="middle" fill="#111" font-weight="bold" stroke="#111" stroke-width="0.35">#</text>
<text x="544.20" y="274.70" font-size="13" text-anchor="middle" fill="#111" font-weight="bold" stroke="#111" stroke-width="0.35">#</text>
<line x1="566.10" y1="284.50" x2="612.40" y2="284.50" stroke="#3a3a3a" stroke-width="1.1" />
<rect x="579.30" y="277.52" width="7.40" height="1.75" fill="#111"/>
<rect x="582.12" y="274.30" width="1.75" height="8.20" fill="#111"/>
<rect x="593.40" y="277.52" width="7.40" height="1.75" fill="#111"/>
<rect x="596.22" y="274.30" width="1.75" height="8.20" fill="#111"/>
<text x="564.45" y="306.50" font-size="24" text-anchor="middle" fill="#111" textLength="20.50" lengthAdjust="spacingAndGlyphs" stroke="none">**</text>
<text x="611.05" y="325.00" font-size="24" text-anchor="middle" fill="#111" textLength="20.50" lengthAdjust="spacingAndGlyphs" stroke="none">**</text>
<text x="84.10" y="409.60" font-size="15" text-anchor="start" fill="#111" textLength="24.10" lengthAdjust="spacingAndGlyphs" stroke="#111" stroke-width="0.3" >CN</text>
<text x="135.30" y="409.60" font-size="15" text-anchor="start" fill="#111" textLength="17.60" lengthAdjust="spacingAndGlyphs" stroke="#111" stroke-width="0.3" >---</text>
<text x="178.90" y="409.60" font-size="15" text-anchor="start" fill="#111" textLength="20.70" lengthAdjust="spacingAndGlyphs" stroke="#111" stroke-width="0.3" >YS</text>
<text x="223.50" y="409.60" font-size="15" text-anchor="start" fill="#111" textLength="30.60" lengthAdjust="spacingAndGlyphs" stroke="#111" stroke-width="0.3" >CW</text>
<line x1="127.90" y1="414.00" x2="258.60" y2="414.00" stroke="#3a3a3a" stroke-width="1.1" />
<text x="157.90" y="432.00" font-size="16" text-anchor="start" fill="#111" textLength="67.70" lengthAdjust="spacingAndGlyphs" stroke="#111" stroke-width="0.3" >MSC CM</text>
<text x="320.20" y="409.60" font-size="15" text-anchor="start" fill="#111" textLength="16.70" lengthAdjust="spacingAndGlyphs" stroke="#111" stroke-width="0.3" >---</text>
<text x="368.20" y="409.60" font-size="15" text-anchor="start" fill="#111" textLength="20.40" lengthAdjust="spacingAndGlyphs" stroke="#111" stroke-width="0.3" >YS</text>
<text x="412.70" y="409.60" font-size="15" text-anchor="start" fill="#111" textLength="29.20" lengthAdjust="spacingAndGlyphs" stroke="#111" stroke-width="0.3" >CW</text>
<line x1="314.00" y1="414.00" x2="444.40" y2="414.00" stroke="#3a3a3a" stroke-width="1.1" />
<text x="318.40" y="432.00" font-size="16" text-anchor="start" fill="#111" textLength="80.00" lengthAdjust="spacingAndGlyphs" stroke="#111" stroke-width="0.3" >lymphocyte</text>
<text x="407.10" y="432.00" font-size="16" text-anchor="start" fill="#111" textLength="26.00" lengthAdjust="spacingAndGlyphs" stroke="#111" stroke-width="0.3" >CM</text>
<text x="508.00" y="409.60" font-size="15" text-anchor="start" fill="#111" textLength="16.80" lengthAdjust="spacingAndGlyphs" stroke="#111" stroke-width="0.3" >---</text>
<text x="553.10" y="409.60" font-size="15" text-anchor="start" fill="#111" textLength="20.10" lengthAdjust="spacingAndGlyphs" stroke="#111" stroke-width="0.3" >YS</text>
<text x="597.70" y="409.60" font-size="15" text-anchor="start" fill="#111" textLength="28.80" lengthAdjust="spacingAndGlyphs" stroke="#111" stroke-width="0.3" >CW</text>
<line x1="503.00" y1="414.00" x2="633.00" y2="414.00" stroke="#3a3a3a" stroke-width="1.1" />
<text x="523.80" y="432.00" font-size="16" text-anchor="start" fill="#111" textLength="85.20" lengthAdjust="spacingAndGlyphs" stroke="#111" stroke-width="0.3" >PANC1 CM</text>
<line x1="95.20" y1="492.80" x2="95.20" y2="500.40" stroke="#555" stroke-width="1.0" />
<line x1="91.90" y1="492.80" x2="98.50" y2="492.80" stroke="#666" stroke-width="1.1" />
<rect x="81.40" y="500.40" width="27.60" height="93.90" fill="#fff" stroke="#111" stroke-width="1.3" />
<line x1="142.10" y1="494.30" x2="142.10" y2="502.30" stroke="#555" stroke-width="1.0" />
<line x1="138.80" y1="494.30" x2="145.40" y2="494.30" stroke="#666" stroke-width="1.1" />
<rect x="128.40" y="502.30" width="27.50" height="92.00" fill="#e7e6e6" stroke="#111" stroke-width="1.3" />
<line x1="189.00" y1="536.00" x2="189.00" y2="540.60" stroke="#555" stroke-width="1.0" />
<line x1="185.70" y1="536.00" x2="192.30" y2="536.00" stroke="#666" stroke-width="1.1" />
<rect x="175.20" y="540.60" width="27.30" height="53.70" fill="#c5e0b4" stroke="#111" stroke-width="1.3" />
<line x1="235.60" y1="508.40" x2="235.60" y2="515.20" stroke="#555" stroke-width="1.0" />
<line x1="232.30" y1="508.40" x2="238.90" y2="508.40" stroke="#666" stroke-width="1.1" />
<rect x="222.50" y="515.20" width="26.90" height="79.10" fill="#3bb8d8" stroke="#111" stroke-width="1.3" />
<line x1="329.20" y1="498.30" x2="329.20" y2="500.70" stroke="#555" stroke-width="1.0" />
<line x1="325.90" y1="498.30" x2="332.50" y2="498.30" stroke="#666" stroke-width="1.1" />
<rect x="315.40" y="500.70" width="27.80" height="93.60" fill="#e7e6e6" stroke="#111" stroke-width="1.3" />
<line x1="376.20" y1="504.10" x2="376.20" y2="505.00" stroke="#555" stroke-width="1.0" />
<line x1="372.90" y1="504.10" x2="379.50" y2="504.10" stroke="#666" stroke-width="1.1" />
<rect x="362.40" y="505.00" width="27.80" height="89.30" fill="#c5e0b4" stroke="#111" stroke-width="1.3" />
<line x1="422.70" y1="516.70" x2="422.70" y2="517.60" stroke="#555" stroke-width="1.0" />
<line x1="419.40" y1="516.70" x2="426.00" y2="516.70" stroke="#666" stroke-width="1.1" />
<rect x="408.90" y="517.60" width="27.60" height="76.70" fill="#3bb8d8" stroke="#111" stroke-width="1.3" />
<line x1="516.40" y1="491.50" x2="516.40" y2="495.80" stroke="#555" stroke-width="1.0" />
<line x1="513.10" y1="491.50" x2="519.70" y2="491.50" stroke="#666" stroke-width="1.1" />
<rect x="502.60" y="495.80" width="27.60" height="98.50" fill="#e7e6e6" stroke="#111" stroke-width="1.3" />
<line x1="563.20" y1="488.50" x2="563.20" y2="493.70" stroke="#555" stroke-width="1.0" />
<line x1="559.90" y1="488.50" x2="566.50" y2="488.50" stroke="#666" stroke-width="1.1" />
<rect x="549.60" y="493.70" width="27.60" height="100.60" fill="#c5e0b4" stroke="#111" stroke-width="1.3" />
<line x1="610.00" y1="510.60" x2="610.00" y2="513.00" stroke="#555" stroke-width="1.0" />
<line x1="606.70" y1="510.60" x2="613.30" y2="510.60" stroke="#666" stroke-width="1.1" />
<rect x="596.20" y="513.00" width="27.60" height="81.30" fill="#3bb8d8" stroke="#111" stroke-width="1.3" />
<line x1="72.10" y1="454.70" x2="72.10" y2="595.00" stroke="#111" stroke-width="1.4" />
<line x1="67.10" y1="594.30" x2="632.80" y2="594.30" stroke="#111" stroke-width="1.4" />
<line x1="67.10" y1="500.50" x2="72.10" y2="500.50" stroke="#111" stroke-width="1.3" />
<text x="51.50" y="505.70" font-size="14.6" text-anchor="end" fill="#111" stroke="#111" stroke-width="0.3" >1</text>
<text x="52.00" y="599.50" font-size="14.6" text-anchor="end" fill="#111" stroke="#111" stroke-width="0.3" >0</text>
<text x="71.30" y="448.80" font-size="16" text-anchor="start" fill="#111" textLength="50.70" lengthAdjust="spacingAndGlyphs" stroke="#111" stroke-width="0.3" >Pa03C</text>
<text transform="translate(14.9,546.6) rotate(-90)" font-size="14.6" fill="#111" stroke="#111" stroke-width="0.3" textLength="52.0" lengthAdjust="spacingAndGlyphs">relative</text>
<text transform="translate(34.9,567.5) rotate(-90)" font-size="16" fill="#111" stroke="#111" stroke-width="0.3" textLength="89.4" lengthAdjust="spacingAndGlyphs">MTT viability</text>
<line x1="141.20" y1="462.10" x2="233.50" y2="462.10" stroke="#8a8a8a" stroke-width="1.4" />
<text x="187.05" y="459.00" font-size="13" text-anchor="middle" fill="#111" font-weight="bold" stroke="#111" stroke-width="0.35">#</text>
<line x1="141.20" y1="481.10" x2="189.60" y2="481.10" stroke="#3a3a3a" stroke-width="1.1" />
<text x="159.70" y="476.80" font-size="13" text-anchor="middle" fill="#111" font-weight="bold" stroke="#111" stroke-width="0.35">#</text>
<text x="172.00" y="476.80" font-size="13" text-anchor="middle" fill="#111" font-weight="bold" stroke="#111" stroke-width="0.35">#</text>
<line x1="188.70" y1="491.50" x2="236.60" y2="491.50" stroke="#3a3a3a" stroke-width="1.1" />
<rect x="201.90" y="483.72" width="7.40" height="1.75" fill="#111"/>
<rect x="204.72" y="480.50" width="1.75" height="8.20" fill="#111"/>
<rect x="215.40" y="483.72" width="7.40" height="1.75" fill="#111"/>
<rect x="218.23" y="480.50" width="1.75" height="8.20" fill="#111"/>
<text x="189.15" y="540.30" font-size="24" text-anchor="middle" fill="#111" textLength="20.50" lengthAdjust="spacingAndGlyphs" stroke="none">**</text>
<text x="235.15" y="512.70" font-size="24" text-anchor="middle" fill="#111" textLength="20.50" lengthAdjust="spacingAndGlyphs" stroke="none">**</text>
<line x1="329.10" y1="461.50" x2="422.10" y2="461.50" stroke="#3a3a3a" stroke-width="1.1" />
<text x="370.70" y="458.40" font-size="13" text-anchor="middle" fill="#111" font-weight="bold" stroke="#111" stroke-width="0.35">#</text>
<text x="383.00" y="458.40" font-size="13" text-anchor="middle" fill="#111" font-weight="bold" stroke="#111" stroke-width="0.35">#</text>
<line x1="329.10" y1="478.30" x2="378.20" y2="478.30" stroke="#3a3a3a" stroke-width="1.1" />
<text x="346.70" y="475.30" font-size="13" text-anchor="middle" fill="#111" font-weight="bold" stroke="#111" stroke-width="0.35">#</text>
<text x="359.10" y="475.30" font-size="13" text-anchor="middle" fill="#111" font-weight="bold" stroke="#111" stroke-width="0.35">#</text>
<line x1="375.20" y1="487.50" x2="424.20" y2="487.50" stroke="#3a3a3a" stroke-width="1.1" />
<rect x="390.50" y="479.72" width="7.40" height="1.75" fill="#111"/>
<rect x="393.32" y="476.50" width="1.75" height="8.20" fill="#111"/>
<rect x="403.60" y="479.72" width="7.40" height="1.75" fill="#111"/>
<rect x="406.43" y="476.50" width="1.75" height="8.20" fill="#111"/>
<text x="375.80" y="509.60" font-size="24" text-anchor="middle" fill="#111" textLength="10.20" lengthAdjust="spacingAndGlyphs" stroke="none">*</text>
<text x="423.15" y="518.80" font-size="24" text-anchor="middle" fill="#111" textLength="20.50" lengthAdjust="spacingAndGlyphs" stroke="none">**</text>
<line x1="514.30" y1="466.70" x2="606.30" y2="466.70" stroke="#3a3a3a" stroke-width="1.1" />
<text x="554.00" y="462.40" font-size="13" text-anchor="middle" fill="#111" font-weight="bold" stroke="#111" stroke-width="0.35">#</text>
<text x="566.30" y="462.40" font-size="13" text-anchor="middle" fill="#111" font-weight="bold" stroke="#111" stroke-width="0.35">#</text>
<line x1="562.40" y1="482.30" x2="612.10" y2="482.30" stroke="#3a3a3a" stroke-width="1.1" />
<rect x="576.20" y="473.52" width="7.40" height="1.75" fill="#111"/>
<rect x="579.03" y="470.30" width="1.75" height="8.20" fill="#111"/>
<rect x="589.40" y="473.52" width="7.40" height="1.75" fill="#111"/>
<rect x="592.22" y="470.30" width="1.75" height="8.20" fill="#111"/>
<text x="609.85" y="512.70" font-size="24" text-anchor="middle" fill="#111" textLength="21.10" lengthAdjust="spacingAndGlyphs" stroke="none">**</text>
<text x="84.10" y="613.30" font-size="15" text-anchor="start" fill="#111" textLength="24.10" lengthAdjust="spacingAndGlyphs" stroke="#111" stroke-width="0.3" >CN</text>
<text x="135.30" y="613.30" font-size="15" text-anchor="start" fill="#111" textLength="17.60" lengthAdjust="spacingAndGlyphs" stroke="#111" stroke-width="0.3" >---</text>
<text x="178.90" y="613.30" font-size="15" text-anchor="start" fill="#111" textLength="20.70" lengthAdjust="spacingAndGlyphs" stroke="#111" stroke-width="0.3" >YS</text>
<text x="223.50" y="613.30" font-size="15" text-anchor="start" fill="#111" textLength="30.60" lengthAdjust="spacingAndGlyphs" stroke="#111" stroke-width="0.3" >CW</text>
<line x1="127.90" y1="618.80" x2="258.60" y2="618.80" stroke="#3a3a3a" stroke-width="1.1" />
<text x="157.90" y="636.80" font-size="16" text-anchor="start" fill="#111" textLength="67.70" lengthAdjust="spacingAndGlyphs" stroke="#111" stroke-width="0.3" >MSC CM</text>
<text x="320.20" y="613.30" font-size="15" text-anchor="start" fill="#111" textLength="16.70" lengthAdjust="spacingAndGlyphs" stroke="#111" stroke-width="0.3" >---</text>
<text x="368.20" y="613.30" font-size="15" text-anchor="start" fill="#111" textLength="20.40" lengthAdjust="spacingAndGlyphs" stroke="#111" stroke-width="0.3" >YS</text>
<text x="412.70" y="613.30" font-size="15" text-anchor="start" fill="#111" textLength="29.20" lengthAdjust="spacingAndGlyphs" stroke="#111" stroke-width="0.3" >CW</text>
<line x1="314.00" y1="618.80" x2="444.40" y2="618.80" stroke="#3a3a3a" stroke-width="1.1" />
<text x="318.40" y="636.80" font-size="16" text-anchor="start" fill="#111" textLength="80.00" lengthAdjust="spacingAndGlyphs" stroke="#111" stroke-width="0.3" >lymphocyte</text>
<text x="407.10" y="636.80" font-size="16" text-anchor="start" fill="#111" textLength="26.00" lengthAdjust="spacingAndGlyphs" stroke="#111" stroke-width="0.3" >CM</text>
<text x="508.00" y="613.30" font-size="15" text-anchor="start" fill="#111" textLength="16.80" lengthAdjust="spacingAndGlyphs" stroke="#111" stroke-width="0.3" >---</text>
<text x="553.10" y="613.30" font-size="15" text-anchor="start" fill="#111" textLength="20.10" lengthAdjust="spacingAndGlyphs" stroke="#111" stroke-width="0.3" >YS</text>
<text x="597.70" y="613.30" font-size="15" text-anchor="start" fill="#111" textLength="28.80" lengthAdjust="spacingAndGlyphs" stroke="#111" stroke-width="0.3" >CW</text>
<line x1="503.00" y1="618.80" x2="633.00" y2="618.80" stroke="#3a3a3a" stroke-width="1.1" />
<text x="523.80" y="636.80" font-size="16" text-anchor="start" fill="#111" textLength="85.20" lengthAdjust="spacingAndGlyphs" stroke="#111" stroke-width="0.3" >PANC1 CM</text>
<text x="47.00" y="661.50" font-size="16" text-anchor="start" fill="#111" textLength="54.60" lengthAdjust="spacingAndGlyphs" stroke="#111" stroke-width="0.3" >PANC1</text>
<text x="157.90" y="662.70" font-size="16" text-anchor="start" fill="#111" textLength="67.20" lengthAdjust="spacingAndGlyphs" stroke="#111" stroke-width="0.3" >MSC CM</text>
<line x1="128.10" y1="670.20" x2="258.40" y2="670.20" stroke="#707070" stroke-width="1.2" />
<text x="96.10" y="686.00" font-size="12.4" text-anchor="start" fill="#111" textLength="19.40" lengthAdjust="spacingAndGlyphs" stroke="#111" stroke-width="0.3" >CN</text>
<text x="146.10" y="686.00" font-size="12.4" text-anchor="start" fill="#111" textLength="13.00" lengthAdjust="spacingAndGlyphs" stroke="#111" stroke-width="0.3" >---</text>
<text x="185.20" y="686.00" font-size="12.4" text-anchor="start" fill="#111" textLength="18.40" lengthAdjust="spacingAndGlyphs" stroke="#111" stroke-width="0.3" >YS</text>
<text x="222.50" y="686.00" font-size="12.4" text-anchor="start" fill="#111" textLength="24.70" lengthAdjust="spacingAndGlyphs" stroke="#111" stroke-width="0.3" >CW</text>
<line x1="308.10" y1="670.20" x2="438.40" y2="670.20" stroke="#707070" stroke-width="1.2" />
<text x="275.50" y="686.00" font-size="12.4" text-anchor="start" fill="#111" textLength="19.40" lengthAdjust="spacingAndGlyphs" stroke="#111" stroke-width="0.3" >CN</text>
<text x="325.20" y="686.00" font-size="12.4" text-anchor="start" fill="#111" textLength="13.30" lengthAdjust="spacingAndGlyphs" stroke="#111" stroke-width="0.3" >---</text>
<text x="364.70" y="686.00" font-size="12.4" text-anchor="start" fill="#111" textLength="18.00" lengthAdjust="spacingAndGlyphs" stroke="#111" stroke-width="0.3" >YS</text>
<text x="401.90" y="686.00" font-size="12.4" text-anchor="start" fill="#111" textLength="24.70" lengthAdjust="spacingAndGlyphs" stroke="#111" stroke-width="0.3" >CW</text>
<line x1="491.00" y1="670.20" x2="622.00" y2="670.20" stroke="#707070" stroke-width="1.2" />
<text x="511.70" y="662.70" font-size="16" text-anchor="start" fill="#111" textLength="85.90" lengthAdjust="spacingAndGlyphs" stroke="#111" stroke-width="0.3" >PANC1 CM</text>
<text x="317.30" y="662.70" font-size="16" text-anchor="start" fill="#111" textLength="80.10" lengthAdjust="spacingAndGlyphs" stroke="#111" stroke-width="0.3" >lymphocyte</text>
<text x="405.40" y="662.70" font-size="16" text-anchor="start" fill="#111" textLength="25.80" lengthAdjust="spacingAndGlyphs" stroke="#111" stroke-width="0.3" >CM</text>
<text x="455.10" y="686.00" font-size="12.4" text-anchor="start" fill="#111" textLength="19.50" lengthAdjust="spacingAndGlyphs" stroke="#111" stroke-width="0.3" >CN</text>
<text x="504.60" y="686.00" font-size="12.4" text-anchor="start" fill="#111" textLength="13.80" lengthAdjust="spacingAndGlyphs" stroke="#111" stroke-width="0.3" >---</text>
<text x="544.40" y="686.00" font-size="12.4" text-anchor="start" fill="#111" textLength="18.80" lengthAdjust="spacingAndGlyphs" stroke="#111" stroke-width="0.3" >YS</text>
<text x="581.70" y="686.00" font-size="12.4" text-anchor="start" fill="#111" textLength="25.20" lengthAdjust="spacingAndGlyphs" stroke="#111" stroke-width="0.3" >CW</text>
<text x="32.60" y="712.70" font-size="16.5" text-anchor="start" fill="#111" textLength="47.00" lengthAdjust="spacingAndGlyphs" stroke="#111" stroke-width="0.3" >K-Ras</text>
<text x="29.30" y="736.60" font-size="16.5" text-anchor="start" fill="#111" textLength="47.90" lengthAdjust="spacingAndGlyphs" stroke="#111" stroke-width="0.3" >β-actin</text>
<clipPath id="c1"><rect x="84.00" y="690.30" width="176.20" height="26.80"/></clipPath>
<g clip-path="url(#c1)">
<rect x="84.00" y="690.30" width="176.20" height="26.80" fill="#f5f5f5"/>
<rect x="93.0" y="686.3" width="30.0" height="17.7" fill="#000" opacity="0.07" filter="url(#b3)"/><rect x="135.0" y="686.3" width="26.0" height="17.7" fill="#000" opacity="0.07" filter="url(#b3)"/>
<ellipse cx="107.70" cy="706.60" rx="18.00" ry="5.40" fill="#000" opacity="0.085" filter="url(#b3)"/>
<rect x="91.70" y="704.70" width="32.00" height="3.80" rx="1.90" fill="#0a0a0a" opacity="0.765" filter="url(#b1)"/>
<ellipse cx="107.70" cy="706.60" rx="15.00" ry="1.50" fill="#0a0a0a" opacity="0.680" filter="url(#b1)"/>
<ellipse cx="149.25" cy="706.00" rx="18.75" ry="5.80" fill="#000" opacity="0.095" filter="url(#b3)"/>
<rect x="132.50" y="703.70" width="33.50" height="4.60" rx="2.30" fill="#0a0a0a" opacity="0.855" filter="url(#b1)"/>
<ellipse cx="149.25" cy="706.00" rx="15.75" ry="1.90" fill="#0a0a0a" opacity="0.760" filter="url(#b1)"/>
<ellipse cx="193.25" cy="706.80" rx="16.75" ry="5.00" fill="#000" opacity="0.062" filter="url(#b3)"/>
<rect x="178.50" y="705.30" width="29.50" height="3.00" rx="1.50" fill="#0a0a0a" opacity="0.558" filter="url(#b1)"/>
<ellipse cx="193.25" cy="706.80" rx="13.75" ry="1.10" fill="#0a0a0a" opacity="0.496" filter="url(#b1)"/>
<ellipse cx="234.50" cy="706.00" rx="16.50" ry="6.00" fill="#000" opacity="0.066" filter="url(#b3)"/>
<rect x="220.00" y="703.50" width="29.00" height="5.00" rx="2.50" fill="#0a0a0a" opacity="0.594" filter="url(#b15)"/>
<ellipse cx="234.50" cy="706.00" rx="13.50" ry="2.10" fill="#0a0a0a" opacity="0.528" filter="url(#b15)"/>
</g>
<rect x="84.00" y="690.30" width="176.20" height="26.80" fill="none" stroke="#111" stroke-width="1.4" rx="0.8"/>
<clipPath id="c2"><rect x="84.00" y="721.00" width="176.20" height="25.90"/></clipPath>
<g clip-path="url(#c2)">
<rect x="84.00" y="721.00" width="176.20" height="25.90" fill="#f5f5f5"/>
<ellipse cx="104.05" cy="733.40" rx="18.75" ry="6.50" fill="#000" opacity="0.100" filter="url(#b3)"/>
<rect x="87.30" y="730.40" width="33.50" height="6.00" rx="3.00" fill="#0a0a0a" opacity="0.900" filter="url(#b1)"/>
<ellipse cx="104.05" cy="733.40" rx="15.75" ry="2.60" fill="#0a0a0a" opacity="0.800" filter="url(#b1)"/>
<ellipse cx="145.55" cy="733.60" rx="20.95" ry="7.00" fill="#000" opacity="0.100" filter="url(#b3)"/>
<rect x="126.60" y="730.10" width="37.90" height="7.00" rx="3.50" fill="#0a0a0a" opacity="0.900" filter="url(#b1)"/>
<ellipse cx="145.55" cy="733.60" rx="17.95" ry="3.10" fill="#0a0a0a" opacity="0.800" filter="url(#b1)"/>
<ellipse cx="187.90" cy="734.00" rx="20.90" ry="6.80" fill="#000" opacity="0.100" filter="url(#b3)"/>
<rect x="169.00" y="730.70" width="37.80" height="6.60" rx="3.30" fill="#0a0a0a" opacity="0.900" filter="url(#b1)"/>
<ellipse cx="187.90" cy="734.00" rx="17.90" ry="2.90" fill="#0a0a0a" opacity="0.800" filter="url(#b1)"/>
<ellipse cx="231.65" cy="734.00" rx="20.95" ry="7.30" fill="#000" opacity="0.100" filter="url(#b3)"/>
<rect x="212.70" y="730.20" width="37.90" height="7.60" rx="3.80" fill="#0a0a0a" opacity="0.900" filter="url(#b1)"/>
<ellipse cx="231.65" cy="734.00" rx="17.95" ry="3.40" fill="#0a0a0a" opacity="0.800" filter="url(#b1)"/>
</g>
<rect x="84.00" y="721.00" width="176.20" height="25.90" fill="none" stroke="#111" stroke-width="1.4" rx="0.8"/>
<clipPath id="c3"><rect x="265.70" y="690.30" width="176.50" height="26.80"/></clipPath>
<g clip-path="url(#c3)">
<rect x="265.70" y="690.30" width="176.50" height="26.80" fill="url(#gv)"/>
<rect x="274.0" y="686.3" width="30.0" height="19.7" fill="#000" opacity="0.13" filter="url(#b3)"/><rect x="318.0" y="686.3" width="30.0" height="19.7" fill="#000" opacity="0.13" filter="url(#b3)"/><rect x="360.0" y="686.3" width="28.0" height="19.7" fill="#000" opacity="0.13" filter="url(#b3)"/><rect x="403.0" y="686.3" width="28.0" height="19.7" fill="#000" opacity="0.13" filter="url(#b3)"/>
<ellipse cx="289.15" cy="707.20" rx="19.45" ry="5.90" fill="#000" opacity="0.097" filter="url(#b3)"/>
<rect x="271.70" y="704.80" width="34.90" height="4.80" rx="2.40" fill="#0a0a0a" opacity="0.873" filter="url(#b1)"/>
<ellipse cx="289.15" cy="707.20" rx="16.45" ry="2.00" fill="#0a0a0a" opacity="0.776" filter="url(#b1)"/>
<ellipse cx="332.90" cy="706.60" rx="18.00" ry="5.90" fill="#000" opacity="0.095" filter="url(#b3)"/>
<rect x="316.90" y="704.20" width="32.00" height="4.80" rx="2.40" fill="#0a0a0a" opacity="0.855" filter="url(#b1)"/>
<ellipse cx="332.90" cy="706.60" rx="15.00" ry="2.00" fill="#0a0a0a" opacity="0.760" filter="url(#b1)"/>
<ellipse cx="374.35" cy="706.00" rx="17.35" ry="5.70" fill="#000" opacity="0.090" filter="url(#b3)"/>
<rect x="359.00" y="703.80" width="30.70" height="4.40" rx="2.20" fill="#0a0a0a" opacity="0.810" filter="url(#b1)"/>
<ellipse cx="374.35" cy="706.00" rx="14.35" ry="1.80" fill="#0a0a0a" opacity="0.720" filter="url(#b1)"/>
<ellipse cx="416.70" cy="704.80" rx="17.30" ry="5.30" fill="#000" opacity="0.062" filter="url(#b3)"/>
<rect x="401.40" y="703.00" width="30.60" height="3.60" rx="1.80" fill="#0a0a0a" opacity="0.558" filter="url(#b15)"/>
<ellipse cx="416.70" cy="704.80" rx="14.30" ry="1.40" fill="#0a0a0a" opacity="0.496" filter="url(#b15)"/>
</g>
<rect x="265.70" y="690.30" width="176.50" height="26.80" fill="none" stroke="#111" stroke-width="1.4" rx="0.8"/>
<clipPath id="c4"><rect x="265.70" y="721.00" width="176.50" height="25.90"/></clipPath>
<g clip-path="url(#c4)">
<rect x="265.70" y="721.00" width="176.50" height="25.90" fill="#ededed"/>
<ellipse cx="286.25" cy="735.00" rx="20.95" ry="7.30" fill="#000" opacity="0.100" filter="url(#b3)"/>
<rect x="267.30" y="731.20" width="37.90" height="7.60" rx="3.80" fill="#0a0a0a" opacity="0.900" filter="url(#b1)"/>
<ellipse cx="286.25" cy="735.00" rx="17.95" ry="3.40" fill="#0a0a0a" opacity="0.800" filter="url(#b1)"/>
<ellipse cx="330.40" cy="735.00" rx="20.50" ry="7.00" fill="#000" opacity="0.100" filter="url(#b3)"/>
<rect x="311.90" y="731.50" width="37.00" height="7.00" rx="3.50" fill="#0a0a0a" opacity="0.900" filter="url(#b1)"/>
<ellipse cx="330.40" cy="735.00" rx="17.50" ry="3.10" fill="#0a0a0a" opacity="0.800" filter="url(#b1)"/>
<ellipse cx="371.50" cy="735.00" rx="20.20" ry="6.80" fill="#000" opacity="0.100" filter="url(#b3)"/>
<rect x="353.30" y="731.70" width="36.40" height="6.60" rx="3.30" fill="#0a0a0a" opacity="0.900" filter="url(#b1)"/>
<ellipse cx="371.50" cy="735.00" rx="17.20" ry="2.90" fill="#0a0a0a" opacity="0.800" filter="url(#b1)"/>
<ellipse cx="413.35" cy="733.60" rx="20.65" ry="7.50" fill="#000" opacity="0.100" filter="url(#b3)"/>
<rect x="394.70" y="729.60" width="37.30" height="8.00" rx="4.00" fill="#0a0a0a" opacity="0.900" filter="url(#b1)"/>
<ellipse cx="413.35" cy="733.60" rx="17.65" ry="3.60" fill="#0a0a0a" opacity="0.800" filter="url(#b1)"/>
</g>
<rect x="265.70" y="721.00" width="176.50" height="25.90" fill="none" stroke="#111" stroke-width="1.4" rx="0.8"/>
<clipPath id="c5"><rect x="446.60" y="690.30" width="176.80" height="26.80"/></clipPath>
<g clip-path="url(#c5)">
<rect x="446.60" y="690.30" width="176.80" height="26.80" fill="#f5f5f5"/>
<rect x="452.0" y="686.3" width="30.0" height="13.7" fill="#000" opacity="0.06" filter="url(#b3)"/><rect x="495.0" y="686.3" width="30.0" height="13.7" fill="#000" opacity="0.06" filter="url(#b3)"/>
<ellipse cx="466.85" cy="702.80" rx="17.45" ry="5.30" fill="#000" opacity="0.074" filter="url(#b3)"/>
<rect x="451.40" y="701.00" width="30.90" height="3.60" rx="1.80" fill="#0a0a0a" opacity="0.666" filter="url(#b15)"/>
<ellipse cx="466.85" cy="702.80" rx="14.45" ry="1.40" fill="#0a0a0a" opacity="0.592" filter="url(#b15)"/>
<ellipse cx="510.45" cy="701.20" rx="18.75" ry="6.00" fill="#000" opacity="0.097" filter="url(#b3)"/>
<rect x="493.70" y="698.70" width="33.50" height="5.00" rx="2.50" fill="#0a0a0a" opacity="0.873" filter="url(#b1)"/>
<ellipse cx="510.45" cy="701.20" rx="15.75" ry="2.10" fill="#0a0a0a" opacity="0.776" filter="url(#b1)"/>
<ellipse cx="552.95" cy="701.90" rx="19.05" ry="5.60" fill="#000" opacity="0.088" filter="url(#b3)"/>
<rect x="535.90" y="699.80" width="34.10" height="4.20" rx="2.10" fill="#0a0a0a" opacity="0.792" filter="url(#b1)"/>
<ellipse cx="552.95" cy="701.90" rx="16.05" ry="1.70" fill="#0a0a0a" opacity="0.704" filter="url(#b1)"/>
<ellipse cx="599.35" cy="703.40" rx="19.85" ry="5.30" fill="#000" opacity="0.055" filter="url(#b3)"/>
<rect x="581.50" y="701.60" width="35.70" height="3.60" rx="1.80" fill="#0a0a0a" opacity="0.495" filter="url(#b15)"/>
<ellipse cx="599.35" cy="703.40" rx="16.85" ry="1.40" fill="#0a0a0a" opacity="0.440" filter="url(#b15)"/>
</g>
<rect x="446.60" y="690.30" width="176.80" height="26.80" fill="none" stroke="#111" stroke-width="1.4" rx="0.8"/>
<clipPath id="c6"><rect x="446.60" y="721.00" width="176.80" height="25.90"/></clipPath>
<g clip-path="url(#c6)">
<rect x="446.60" y="721.00" width="176.80" height="25.90" fill="#f5f5f5"/>
<ellipse cx="470.90" cy="734.40" rx="19.90" ry="6.80" fill="#000" opacity="0.100" filter="url(#b3)"/>
<rect x="453.00" y="731.10" width="35.80" height="6.60" rx="3.30" fill="#0a0a0a" opacity="0.900" filter="url(#b1)"/>
<ellipse cx="470.90" cy="734.40" rx="16.90" ry="2.90" fill="#0a0a0a" opacity="0.800" filter="url(#b1)"/>
<ellipse cx="514.00" cy="734.40" rx="20.70" ry="6.90" fill="#000" opacity="0.100" filter="url(#b3)"/>
<rect x="495.30" y="731.00" width="37.40" height="6.80" rx="3.40" fill="#0a0a0a" opacity="0.900" filter="url(#b1)"/>
<ellipse cx="514.00" cy="734.40" rx="17.70" ry="3.00" fill="#0a0a0a" opacity="0.800" filter="url(#b1)"/>
<ellipse cx="557.10" cy="733.80" rx="19.90" ry="6.60" fill="#000" opacity="0.100" filter="url(#b3)"/>
<rect x="539.20" y="730.70" width="35.80" height="6.20" rx="3.10" fill="#0a0a0a" opacity="0.900" filter="url(#b1)"/>
<ellipse cx="557.10" cy="733.80" rx="16.90" ry="2.70" fill="#0a0a0a" opacity="0.800" filter="url(#b1)"/>
<ellipse cx="600.20" cy="733.40" rx="20.70" ry="6.70" fill="#000" opacity="0.100" filter="url(#b3)"/>
<rect x="581.50" y="730.20" width="37.40" height="6.40" rx="3.20" fill="#0a0a0a" opacity="0.900" filter="url(#b1)"/>
<ellipse cx="600.20" cy="733.40" rx="17.70" ry="2.80" fill="#0a0a0a" opacity="0.800" filter="url(#b1)"/>
</g>
<rect x="446.60" y="721.00" width="176.80" height="25.90" fill="none" stroke="#111" stroke-width="1.4" rx="0.8"/>
<text x="47.20" y="776.60" font-size="16" text-anchor="start" fill="#111" textLength="51.20" lengthAdjust="spacingAndGlyphs" stroke="#111" stroke-width="0.3" >Pa03C</text>
<text x="157.90" y="775.20" font-size="16" text-anchor="start" fill="#111" textLength="67.20" lengthAdjust="spacingAndGlyphs" stroke="#111" stroke-width="0.3" >MSC CM</text>
<line x1="128.10" y1="782.20" x2="258.40" y2="782.20" stroke="#707070" stroke-width="1.2" />
<text x="315.00" y="774.80" font-size="16" text-anchor="start" fill="#111" textLength="79.80" lengthAdjust="spacingAndGlyphs" stroke="#111" stroke-width="0.3" >lymphocyte</text>
<text x="403.00" y="774.80" font-size="16" text-anchor="start" fill="#111" textLength="26.10" lengthAdjust="spacingAndGlyphs" stroke="#111" stroke-width="0.3" >CM</text>
<line x1="308.10" y1="781.20" x2="438.40" y2="781.20" stroke="#8a8a8a" stroke-width="1.5" />
<text x="511.70" y="775.40" font-size="16" text-anchor="start" fill="#111" textLength="85.90" lengthAdjust="spacingAndGlyphs" stroke="#111" stroke-width="0.3" >PANC1 CM</text>
<line x1="492.00" y1="781.20" x2="622.80" y2="781.20" stroke="#8a8a8a" stroke-width="1.4" />
<text x="96.10" y="796.00" font-size="12.4" text-anchor="start" fill="#111" textLength="19.40" lengthAdjust="spacingAndGlyphs" stroke="#111" stroke-width="0.3" >CN</text>
<text x="146.10" y="796.00" font-size="12.4" text-anchor="start" fill="#111" textLength="13.00" lengthAdjust="spacingAndGlyphs" stroke="#111" stroke-width="0.3" >---</text>
<text x="185.20" y="796.00" font-size="12.4" text-anchor="start" fill="#111" textLength="18.40" lengthAdjust="spacingAndGlyphs" stroke="#111" stroke-width="0.3" >YS</text>
<text x="222.50" y="796.00" font-size="12.4" text-anchor="start" fill="#111" textLength="24.70" lengthAdjust="spacingAndGlyphs" stroke="#111" stroke-width="0.3" >CW</text>
<text x="275.50" y="796.00" font-size="12.4" text-anchor="start" fill="#111" textLength="19.40" lengthAdjust="spacingAndGlyphs" stroke="#111" stroke-width="0.3" >CN</text>
<text x="325.20" y="796.00" font-size="12.4" text-anchor="start" fill="#111" textLength="13.30" lengthAdjust="spacingAndGlyphs" stroke="#111" stroke-width="0.3" >---</text>
<text x="364.70" y="796.00" font-size="12.4" text-anchor="start" fill="#111" textLength="18.00" lengthAdjust="spacingAndGlyphs" stroke="#111" stroke-width="0.3" >YS</text>
<text x="401.90" y="796.00" font-size="12.4" text-anchor="start" fill="#111" textLength="24.70" lengthAdjust="spacingAndGlyphs" stroke="#111" stroke-width="0.3" >CW</text>
<text x="458.40" y="796.00" font-size="12.4" text-anchor="start" fill="#111" textLength="19.50" lengthAdjust="spacingAndGlyphs" stroke="#111" stroke-width="0.3" >CN</text>
<text x="507.90" y="796.00" font-size="12.4" text-anchor="start" fill="#111" textLength="13.80" lengthAdjust="spacingAndGlyphs" stroke="#111" stroke-width="0.3" >---</text>
<text x="548.60" y="796.00" font-size="12.4" text-anchor="start" fill="#111" textLength="17.90" lengthAdjust="spacingAndGlyphs" stroke="#111" stroke-width="0.3" >YS</text>
<text x="585.00" y="796.00" font-size="12.4" text-anchor="start" fill="#111" textLength="24.50" lengthAdjust="spacingAndGlyphs" stroke="#111" stroke-width="0.3" >CW</text>
<text x="31.80" y="821.20" font-size="16.5" text-anchor="start" fill="#111" textLength="46.50" lengthAdjust="spacingAndGlyphs" stroke="#111" stroke-width="0.3" >K-Ras</text>
<text x="28.50" y="849.00" font-size="16.5" text-anchor="start" fill="#111" textLength="49.40" lengthAdjust="spacingAndGlyphs" stroke="#111" stroke-width="0.3" >β-actin</text>
<clipPath id="c7"><rect x="84.00" y="801.00" width="176.20" height="27.30"/></clipPath>
<g clip-path="url(#c7)">
<rect x="84.00" y="801.00" width="176.20" height="27.30" fill="#f5f5f5"/>
<ellipse cx="109.15" cy="812.00" rx="18.05" ry="6.50" fill="#000" opacity="0.100" filter="url(#b3)"/>
<rect x="93.10" y="809.00" width="32.10" height="6.00" rx="3.00" fill="#0a0a0a" opacity="0.900" filter="url(#b1)"/>
<ellipse cx="109.15" cy="812.00" rx="15.05" ry="2.60" fill="#0a0a0a" opacity="0.800" filter="url(#b1)"/>
<ellipse cx="150.70" cy="812.60" rx="18.80" ry="7.00" fill="#000" opacity="0.100" filter="url(#b3)"/>
<rect x="133.90" y="809.10" width="33.60" height="7.00" rx="3.50" fill="#0a0a0a" opacity="0.900" filter="url(#b1)"/>
<ellipse cx="150.70" cy="812.60" rx="15.80" ry="3.10" fill="#0a0a0a" opacity="0.800" filter="url(#b1)"/>
<ellipse cx="193.00" cy="814.00" rx="17.30" ry="6.10" fill="#000" opacity="0.040" filter="url(#b3)"/>
<rect x="177.70" y="811.40" width="30.60" height="5.20" rx="2.60" fill="#0a0a0a" opacity="0.360" filter="url(#b15)"/>
<ellipse cx="193.00" cy="814.00" rx="14.30" ry="2.20" fill="#0a0a0a" opacity="0.320" filter="url(#b15)"/>
<ellipse cx="233.05" cy="814.00" rx="18.05" ry="6.50" fill="#000" opacity="0.076" filter="url(#b3)"/>
<rect x="217.00" y="811.00" width="32.10" height="6.00" rx="3.00" fill="#0a0a0a" opacity="0.684" filter="url(#b15)"/>
<ellipse cx="233.05" cy="814.00" rx="15.05" ry="2.60" fill="#0a0a0a" opacity="0.608" filter="url(#b15)"/>
</g>
<rect x="84.00" y="801.00" width="176.20" height="27.30" fill="none" stroke="#111" stroke-width="1.4" rx="0.8"/>
<clipPath id="c8"><rect x="84.00" y="832.30" width="176.20" height="26.90"/></clipPath>
<g clip-path="url(#c8)">
<rect x="84.00" y="832.30" width="176.20" height="26.90" fill="#f5f5f5"/>
<ellipse cx="110.60" cy="847.00" rx="19.50" ry="7.30" fill="#000" opacity="0.100" filter="url(#b3)"/>
<rect x="93.10" y="843.20" width="35.00" height="7.60" rx="3.80" fill="#0a0a0a" opacity="0.900" filter="url(#b1)"/>
<ellipse cx="110.60" cy="847.00" rx="16.50" ry="3.40" fill="#0a0a0a" opacity="0.800" filter="url(#b1)"/>
<ellipse cx="152.85" cy="846.20" rx="20.95" ry="7.30" fill="#000" opacity="0.100" filter="url(#b3)"/>
<rect x="133.90" y="842.40" width="37.90" height="7.60" rx="3.80" fill="#0a0a0a" opacity="0.900" filter="url(#b1)"/>
<ellipse cx="152.85" cy="846.20" rx="17.95" ry="3.40" fill="#0a0a0a" opacity="0.800" filter="url(#b1)"/>
<ellipse cx="195.20" cy="845.20" rx="19.50" ry="7.30" fill="#000" opacity="0.100" filter="url(#b3)"/>
<rect x="177.70" y="841.40" width="35.00" height="7.60" rx="3.80" fill="#0a0a0a" opacity="0.900" filter="url(#b1)"/>
<ellipse cx="195.20" cy="845.20" rx="16.50" ry="3.40" fill="#0a0a0a" opacity="0.800" filter="url(#b1)"/>
<ellipse cx="236.00" cy="843.20" rx="19.50" ry="7.30" fill="#000" opacity="0.100" filter="url(#b3)"/>
<rect x="218.50" y="839.40" width="35.00" height="7.60" rx="3.80" fill="#0a0a0a" opacity="0.900" filter="url(#b1)"/>
<ellipse cx="236.00" cy="843.20" rx="16.50" ry="3.40" fill="#0a0a0a" opacity="0.800" filter="url(#b1)"/>
</g>
<rect x="84.00" y="832.30" width="176.20" height="26.90" fill="none" stroke="#111" stroke-width="1.4" rx="0.8"/>
<clipPath id="c9"><rect x="265.70" y="801.00" width="176.50" height="27.30"/></clipPath>
<g clip-path="url(#c9)">
<rect x="265.70" y="801.00" width="176.50" height="27.30" fill="url(#gm)"/>
<ellipse cx="288.45" cy="816.40" rx="18.75" ry="6.90" fill="#000" opacity="0.100" filter="url(#b3)"/>
<rect x="271.70" y="813.00" width="33.50" height="6.80" rx="3.40" fill="#0a0a0a" opacity="0.900" filter="url(#b1)"/>
<ellipse cx="288.45" cy="816.40" rx="15.75" ry="3.00" fill="#0a0a0a" opacity="0.800" filter="url(#b1)"/>
<ellipse cx="329.95" cy="815.60" rx="18.05" ry="6.70" fill="#000" opacity="0.100" filter="url(#b3)"/>
<rect x="313.90" y="812.40" width="32.10" height="6.40" rx="3.20" fill="#0a0a0a" opacity="0.900" filter="url(#b1)"/>
<ellipse cx="329.95" cy="815.60" rx="15.05" ry="2.80" fill="#0a0a0a" opacity="0.800" filter="url(#b1)"/>
<ellipse cx="373.00" cy="814.00" rx="17.30" ry="6.00" fill="#000" opacity="0.095" filter="url(#b3)"/>
<rect x="357.70" y="811.50" width="30.60" height="5.00" rx="2.50" fill="#0a0a0a" opacity="0.855" filter="url(#b1)" transform="rotate(-3.5 373.00 814.00)"/>
<ellipse cx="373.00" cy="814.00" rx="14.30" ry="2.10" fill="#0a0a0a" opacity="0.760" filter="url(#b1)" transform="rotate(-3.5 373.00 814.00)"/>
<ellipse cx="412.35" cy="813.20" rx="15.85" ry="5.40" fill="#000" opacity="0.045" filter="url(#b3)"/>
<rect x="398.50" y="811.30" width="27.70" height="3.80" rx="1.90" fill="#0a0a0a" opacity="0.405" filter="url(#b15)"/>
<ellipse cx="412.35" cy="813.20" rx="12.85" ry="1.50" fill="#0a0a0a" opacity="0.360" filter="url(#b15)"/>
</g>
<rect x="265.70" y="801.00" width="176.50" height="27.30" fill="none" stroke="#111" stroke-width="1.4" rx="0.8"/>
<clipPath id="c10"><rect x="265.70" y="832.30" width="176.50" height="26.90"/></clipPath>
<g clip-path="url(#c10)">
<rect x="265.70" y="832.30" width="176.50" height="26.90" fill="#ececec"/>
<ellipse cx="287.70" cy="850.00" rx="18.00" ry="6.70" fill="#000" opacity="0.100" filter="url(#b3)"/>
<rect x="271.70" y="846.80" width="32.00" height="6.40" rx="3.20" fill="#0a0a0a" opacity="0.900" filter="url(#b1)"/>
<ellipse cx="287.70" cy="850.00" rx="15.00" ry="2.80" fill="#0a0a0a" opacity="0.800" filter="url(#b1)"/>
<ellipse cx="329.20" cy="849.00" rx="17.30" ry="6.50" fill="#000" opacity="0.100" filter="url(#b3)"/>
<rect x="313.90" y="846.00" width="30.60" height="6.00" rx="3.00" fill="#0a0a0a" opacity="0.900" filter="url(#b1)"/>
<ellipse cx="329.20" cy="849.00" rx="14.30" ry="2.60" fill="#0a0a0a" opacity="0.800" filter="url(#b1)"/>
<ellipse cx="370.80" cy="847.00" rx="19.50" ry="6.80" fill="#000" opacity="0.100" filter="url(#b3)"/>
<rect x="353.30" y="843.70" width="35.00" height="6.60" rx="3.30" fill="#0a0a0a" opacity="0.900" filter="url(#b1)"/>
<ellipse cx="370.80" cy="847.00" rx="16.50" ry="2.90" fill="#0a0a0a" opacity="0.800" filter="url(#b1)"/>
<ellipse cx="413.80" cy="844.60" rx="20.20" ry="7.70" fill="#000" opacity="0.100" filter="url(#b3)"/>
<rect x="395.60" y="840.40" width="36.40" height="8.40" rx="4.20" fill="#0a0a0a" opacity="0.900" filter="url(#b1)"/>
<ellipse cx="413.80" cy="844.60" rx="17.20" ry="3.80" fill="#0a0a0a" opacity="0.800" filter="url(#b1)"/>
</g>
<rect x="265.70" y="832.30" width="176.50" height="26.90" fill="none" stroke="#111" stroke-width="1.4" rx="0.8"/>
<clipPath id="c11"><rect x="446.60" y="801.00" width="176.80" height="27.30"/></clipPath>
<g clip-path="url(#c11)">
<rect x="446.60" y="801.00" width="176.80" height="27.30" fill="#f5f5f5"/>
<ellipse cx="474.15" cy="818.60" rx="19.85" ry="7.00" fill="#000" opacity="0.100" filter="url(#b3)"/>
<rect x="456.30" y="815.10" width="35.70" height="7.00" rx="3.50" fill="#0a0a0a" opacity="0.900" filter="url(#b1)"/>
<ellipse cx="474.15" cy="818.60" rx="16.85" ry="3.10" fill="#0a0a0a" opacity="0.800" filter="url(#b1)"/>
<ellipse cx="515.60" cy="816.00" rx="19.10" ry="7.00" fill="#000" opacity="0.100" filter="url(#b3)"/>
<rect x="498.50" y="812.50" width="34.20" height="7.00" rx="3.50" fill="#0a0a0a" opacity="0.900" filter="url(#b1)"/>
<ellipse cx="515.60" cy="816.00" rx="16.10" ry="3.10" fill="#0a0a0a" opacity="0.800" filter="url(#b1)"/>
<ellipse cx="555.45" cy="816.40" rx="18.25" ry="6.80" fill="#000" opacity="0.100" filter="url(#b3)"/>
<rect x="539.20" y="813.10" width="32.50" height="6.60" rx="3.30" fill="#0a0a0a" opacity="0.900" filter="url(#b1)"/>
<ellipse cx="555.45" cy="816.40" rx="15.25" ry="2.90" fill="#0a0a0a" opacity="0.800" filter="url(#b1)"/>
<ellipse cx="596.10" cy="818.60" rx="18.30" ry="5.30" fill="#000" opacity="0.042" filter="url(#b3)"/>
<rect x="579.80" y="816.80" width="32.60" height="3.60" rx="1.80" fill="#0a0a0a" opacity="0.378" filter="url(#b15)"/>
<ellipse cx="596.10" cy="818.60" rx="15.30" ry="1.40" fill="#0a0a0a" opacity="0.336" filter="url(#b15)"/>
</g>
<rect x="446.60" y="801.00" width="176.80" height="27.30" fill="none" stroke="#111" stroke-width="1.4" rx="0.8"/>
<clipPath id="c12"><rect x="446.60" y="832.30" width="176.80" height="26.90"/></clipPath>
<g clip-path="url(#c12)">
<rect x="446.60" y="832.30" width="176.80" height="26.90" fill="#f5f5f5"/>
<ellipse cx="472.50" cy="847.40" rx="19.90" ry="6.50" fill="#000" opacity="0.100" filter="url(#b3)"/>
<rect x="454.60" y="844.40" width="35.80" height="6.00" rx="3.00" fill="#0a0a0a" opacity="0.900" filter="url(#b1)"/>
<ellipse cx="472.50" cy="847.40" rx="16.90" ry="2.60" fill="#0a0a0a" opacity="0.800" filter="url(#b1)"/>
<ellipse cx="513.95" cy="848.00" rx="19.05" ry="6.50" fill="#000" opacity="0.100" filter="url(#b3)"/>
<rect x="496.90" y="845.00" width="34.10" height="6.00" rx="3.00" fill="#0a0a0a" opacity="0.900" filter="url(#b1)"/>
<ellipse cx="513.95" cy="848.00" rx="16.05" ry="2.60" fill="#0a0a0a" opacity="0.800" filter="url(#b1)"/>
<ellipse cx="552.95" cy="847.40" rx="19.05" ry="6.70" fill="#000" opacity="0.100" filter="url(#b3)"/>
<rect x="535.90" y="844.20" width="34.10" height="6.40" rx="3.20" fill="#0a0a0a" opacity="0.900" filter="url(#b1)"/>
<ellipse cx="552.95" cy="847.40" rx="16.05" ry="2.80" fill="#0a0a0a" opacity="0.800" filter="url(#b1)"/>
<ellipse cx="594.50" cy="846.40" rx="19.90" ry="6.90" fill="#000" opacity="0.100" filter="url(#b3)"/>
<rect x="576.60" y="843.00" width="35.80" height="6.80" rx="3.40" fill="#0a0a0a" opacity="0.900" filter="url(#b1)"/>
<ellipse cx="594.50" cy="846.40" rx="16.90" ry="3.00" fill="#0a0a0a" opacity="0.800" filter="url(#b1)"/>
</g>
<rect x="446.60" y="832.30" width="176.80" height="26.90" fill="none" stroke="#111" stroke-width="1.4" rx="0.8"/>
</svg></body></html>
